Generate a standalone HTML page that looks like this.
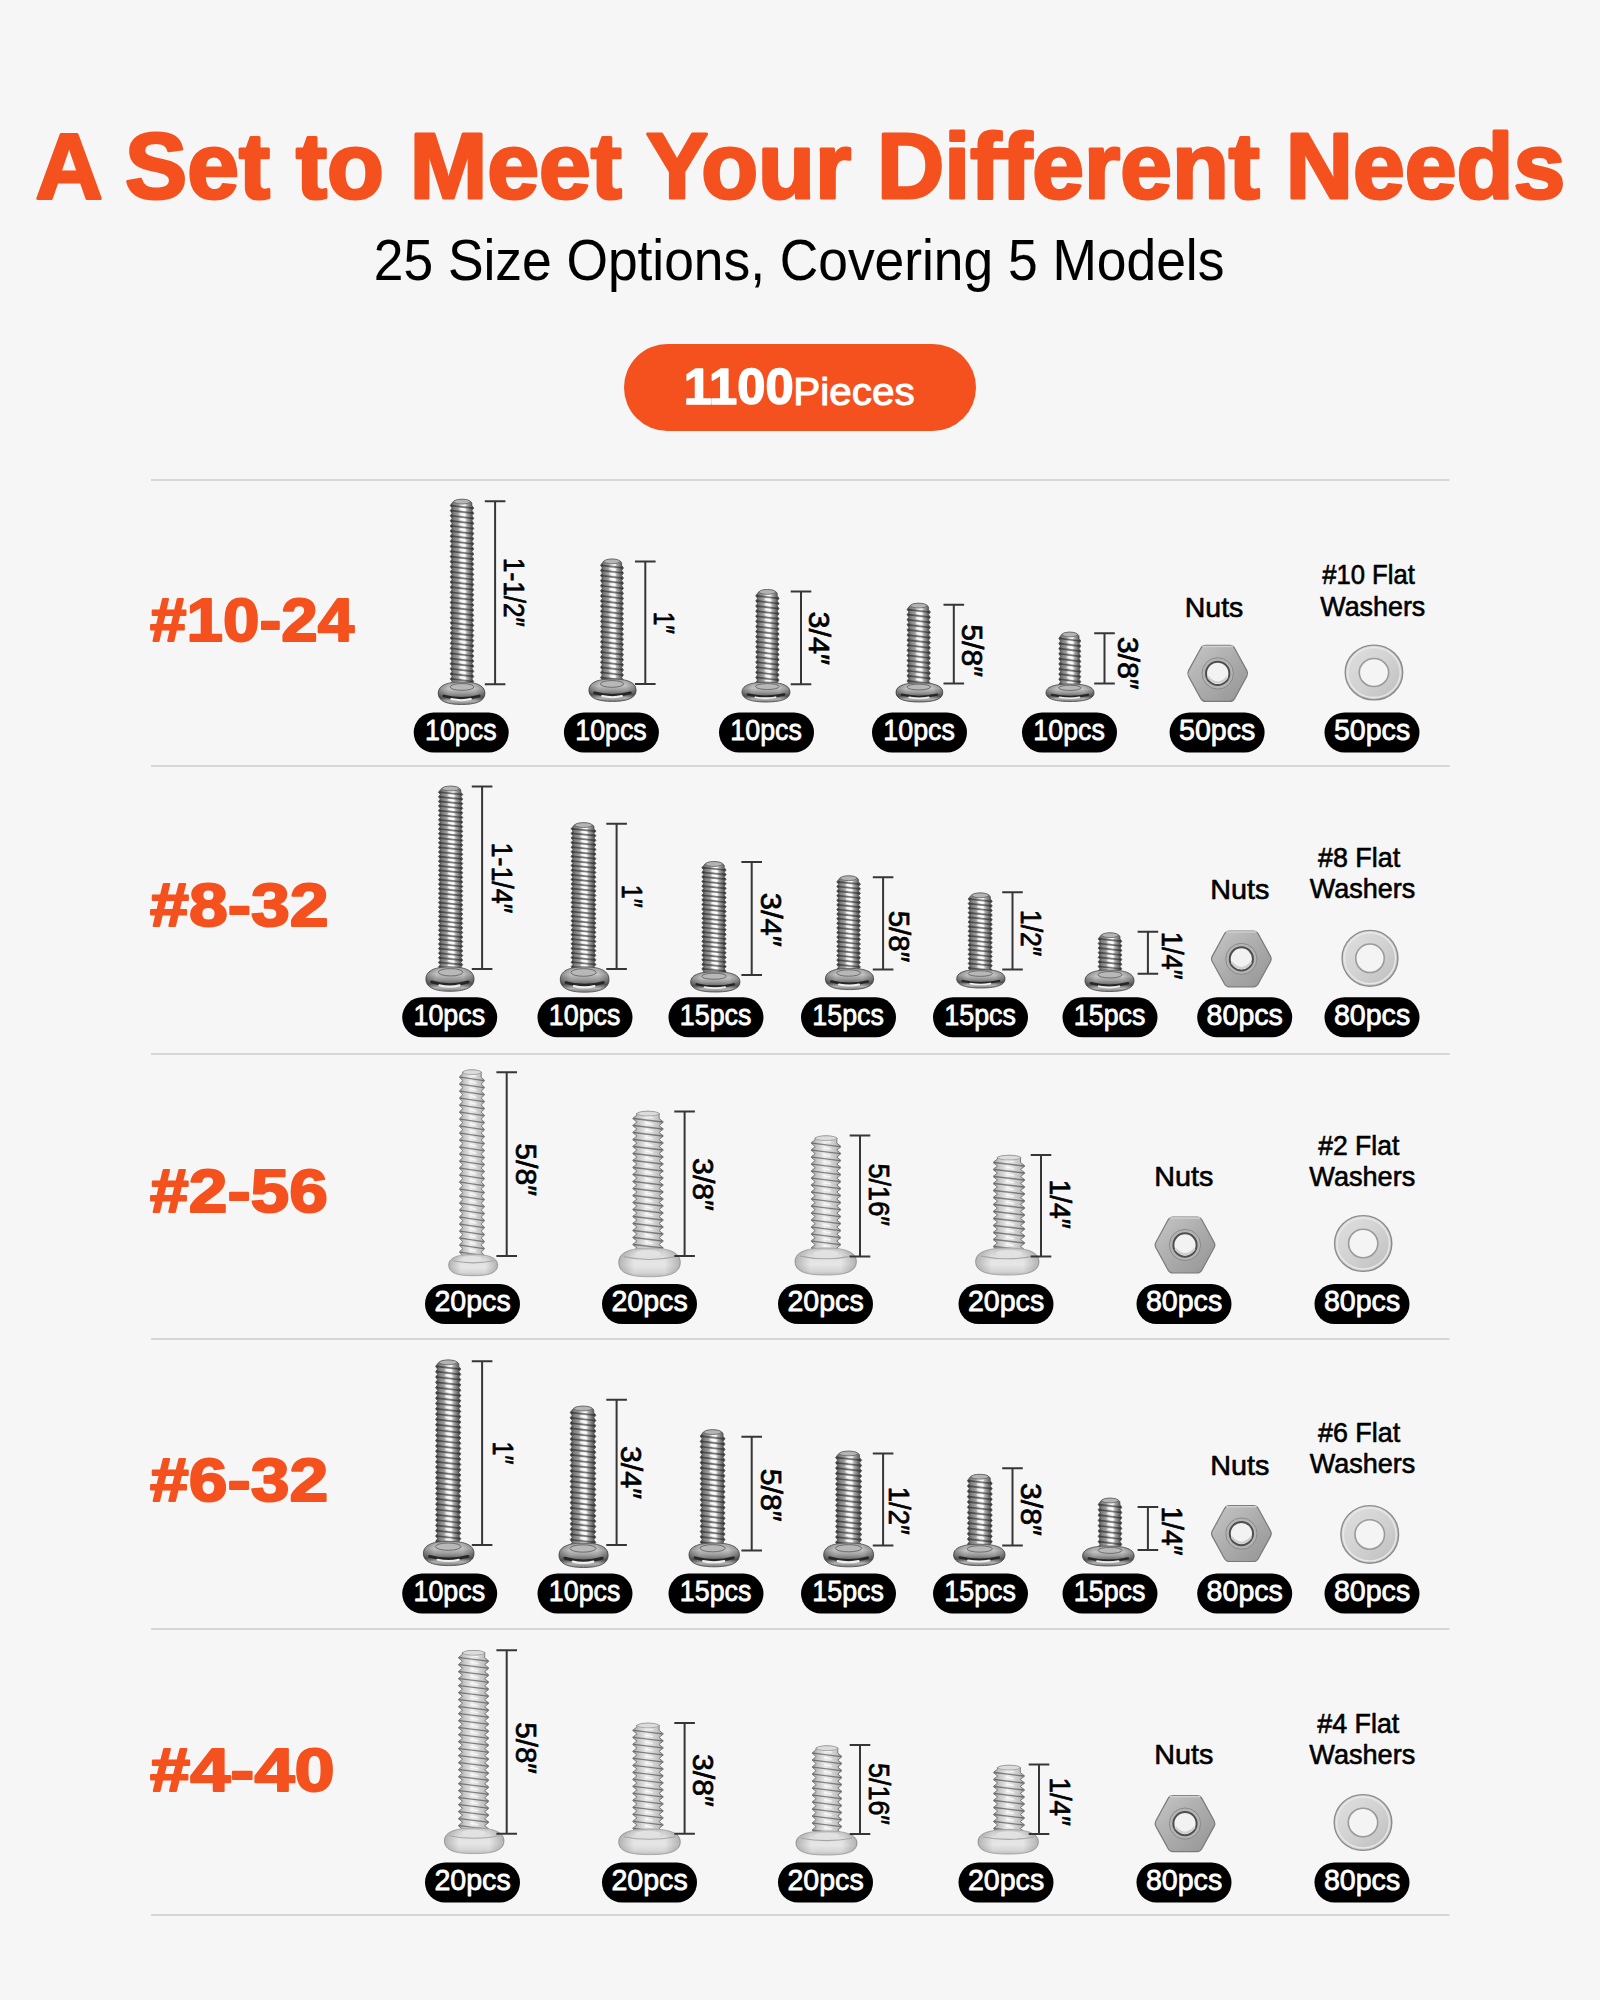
<!DOCTYPE html>
<html><head><meta charset="utf-8"><style>
html,body{margin:0;padding:0;background:#f6f6f6;}
svg{display:block;font-family:"Liberation Sans", sans-serif;}
</style></head><body>
<svg width="1600" height="2000" viewBox="0 0 1600 2000">
<defs>
<linearGradient id="shD" x1="0" y1="0" x2="1" y2="0">
 <stop offset="0" stop-color="#3c3c3c"/><stop offset="0.14" stop-color="#7a7a7a"/><stop offset="0.32" stop-color="#9c9c9c"/>
 <stop offset="0.5" stop-color="#e8e8e8"/><stop offset="0.6" stop-color="#f4f4f4"/><stop offset="0.72" stop-color="#aaaaaa"/><stop offset="0.88" stop-color="#6a6a6a"/><stop offset="1" stop-color="#444"/>
</linearGradient>
<linearGradient id="shL" x1="0" y1="0" x2="1" y2="0">
 <stop offset="0" stop-color="#9c9c9c"/><stop offset="0.2" stop-color="#c8c8c8"/><stop offset="0.45" stop-color="#ececec"/>
 <stop offset="0.6" stop-color="#dedede"/><stop offset="0.85" stop-color="#c0c0c0"/><stop offset="1" stop-color="#969696"/>
</linearGradient>
<linearGradient id="hdD" x1="0" y1="0" x2="0" y2="1">
 <stop offset="0" stop-color="#a0a0a0"/><stop offset="0.3" stop-color="#c2c2c2"/><stop offset="0.5" stop-color="#9c9c9c"/>
 <stop offset="0.7" stop-color="#656565"/><stop offset="0.85" stop-color="#b4b4b4"/><stop offset="1" stop-color="#7a7a7a"/>
</linearGradient>
<linearGradient id="hdDx" x1="0" y1="0" x2="1" y2="0">
 <stop offset="0" stop-color="#000" stop-opacity="0.3"/><stop offset="0.22" stop-color="#000" stop-opacity="0"/>
 <stop offset="0.78" stop-color="#000" stop-opacity="0"/><stop offset="1" stop-color="#000" stop-opacity="0.3"/>
</linearGradient>
<linearGradient id="hdTop" x1="0" y1="0" x2="1" y2="0">
 <stop offset="0" stop-color="#8e8e8e"/><stop offset="0.3" stop-color="#b2b2b2"/><stop offset="0.7" stop-color="#a8a8a8"/><stop offset="1" stop-color="#858585"/>
</linearGradient>
<linearGradient id="hdL" x1="0" y1="0" x2="0" y2="1">
 <stop offset="0" stop-color="#c4c4c4"/><stop offset="0.35" stop-color="#e2e2e2"/><stop offset="0.6" stop-color="#e6e6e6"/>
 <stop offset="0.85" stop-color="#d6d6d6"/><stop offset="1" stop-color="#bdbdbd"/>
</linearGradient>
<linearGradient id="hdLx" x1="0" y1="0" x2="1" y2="0">
 <stop offset="0" stop-color="#000" stop-opacity="0.22"/><stop offset="0.25" stop-color="#000" stop-opacity="0"/>
 <stop offset="0.75" stop-color="#000" stop-opacity="0"/><stop offset="1" stop-color="#000" stop-opacity="0.22"/>
</linearGradient>
<linearGradient id="nutG" x1="0" y1="0" x2="1" y2="1">
 <stop offset="0" stop-color="#c6c6c6"/><stop offset="0.5" stop-color="#acacac"/><stop offset="1" stop-color="#949494"/>
</linearGradient>
<linearGradient id="wasG" x1="0" y1="0" x2="1" y2="1">
 <stop offset="0" stop-color="#e0e0e0"/><stop offset="0.5" stop-color="#d2d2d2"/><stop offset="1" stop-color="#bdbdbd"/>
</linearGradient>
</defs>
<rect width="1600" height="2000" fill="#f6f6f6"/>
<rect x="624" y="344" width="352" height="87" rx="43.5" fill="#f4511e"/>
<rect x="151" y="479" width="1298.5" height="2" fill="#d6d6d6"/>
<rect x="151" y="765" width="1298.5" height="2" fill="#d6d6d6"/>
<rect x="151" y="1053" width="1298.5" height="2" fill="#d6d6d6"/>
<rect x="151" y="1338" width="1298.5" height="2" fill="#d6d6d6"/>
<rect x="151" y="1628" width="1298.5" height="2" fill="#d6d6d6"/>
<rect x="151" y="1914" width="1298.5" height="2" fill="#d6d6d6"/>
<path d="M453.27,501.5 Q462,497.2 470.73,501.5 L471.91,503 L471.91,505.55 L473.8,508.1 L471.91,510.65 L473.8,513.2 L471.91,515.75 L473.8,518.3 L471.91,520.85 L473.8,523.4 L471.91,525.95 L473.8,528.5 L471.91,531.05 L473.8,533.6 L471.91,536.15 L473.8,538.7 L471.91,541.25 L473.8,543.8 L471.91,546.35 L473.8,548.9 L471.91,551.45 L473.8,554 L471.91,556.55 L473.8,559.1 L471.91,561.65 L473.8,564.2 L471.91,566.75 L473.8,569.3 L471.91,571.85 L473.8,574.4 L471.91,576.95 L473.8,579.5 L471.91,582.05 L473.8,584.6 L471.91,587.15 L473.8,589.7 L471.91,592.25 L473.8,594.8 L471.91,597.35 L473.8,599.9 L471.91,602.45 L473.8,605 L471.91,607.55 L473.8,610.1 L471.91,612.65 L473.8,615.2 L471.91,617.75 L473.8,620.3 L471.91,622.85 L473.8,625.4 L471.91,627.95 L473.8,630.5 L471.91,633.05 L473.8,635.6 L471.91,638.15 L473.8,640.7 L471.91,643.25 L473.8,645.8 L471.91,648.35 L473.8,650.9 L471.91,653.45 L473.8,656 L471.91,658.55 L473.8,661.1 L471.91,663.65 L473.8,666.2 L471.91,668.75 L473.8,671.3 L471.91,673.85 L473.8,676.4 L471.91,678.95 L473.8,681.5 L471.91,684.05 L473.8,686.6 L471.91,685 L452.09,685 L450.2,684.05 L452.09,681.5 L450.2,678.95 L452.09,676.4 L450.2,673.85 L452.09,671.3 L450.2,668.75 L452.09,666.2 L450.2,663.65 L452.09,661.1 L450.2,658.55 L452.09,656 L450.2,653.45 L452.09,650.9 L450.2,648.35 L452.09,645.8 L450.2,643.25 L452.09,640.7 L450.2,638.15 L452.09,635.6 L450.2,633.05 L452.09,630.5 L450.2,627.95 L452.09,625.4 L450.2,622.85 L452.09,620.3 L450.2,617.75 L452.09,615.2 L450.2,612.65 L452.09,610.1 L450.2,607.55 L452.09,605 L450.2,602.45 L452.09,599.9 L450.2,597.35 L452.09,594.8 L450.2,592.25 L452.09,589.7 L450.2,587.15 L452.09,584.6 L450.2,582.05 L452.09,579.5 L450.2,576.95 L452.09,574.4 L450.2,571.85 L452.09,569.3 L450.2,566.75 L452.09,564.2 L450.2,561.65 L452.09,559.1 L450.2,556.55 L452.09,554 L450.2,551.45 L452.09,548.9 L450.2,546.35 L452.09,543.8 L450.2,541.25 L452.09,538.7 L450.2,536.15 L452.09,533.6 L450.2,531.05 L452.09,528.5 L450.2,525.95 L452.09,523.4 L450.2,520.85 L452.09,518.3 L450.2,515.75 L452.09,513.2 L450.2,510.65 L452.09,508.1 L450.2,505.55 L452.09,503 L452.09,503 Z" fill="url(#shD)" stroke="#4a4a4a" stroke-width="0.7" stroke-linejoin="round"/>
<path d="M451.2,505.55 L472.8,508.1 M451.2,510.65 L472.8,513.2 M451.2,515.75 L472.8,518.3 M451.2,520.85 L472.8,523.4 M451.2,525.95 L472.8,528.5 M451.2,531.05 L472.8,533.6 M451.2,536.15 L472.8,538.7 M451.2,541.25 L472.8,543.8 M451.2,546.35 L472.8,548.9 M451.2,551.45 L472.8,554 M451.2,556.55 L472.8,559.1 M451.2,561.65 L472.8,564.2 M451.2,566.75 L472.8,569.3 M451.2,571.85 L472.8,574.4 M451.2,576.95 L472.8,579.5 M451.2,582.05 L472.8,584.6 M451.2,587.15 L472.8,589.7 M451.2,592.25 L472.8,594.8 M451.2,597.35 L472.8,599.9 M451.2,602.45 L472.8,605 M451.2,607.55 L472.8,610.1 M451.2,612.65 L472.8,615.2 M451.2,617.75 L472.8,620.3 M451.2,622.85 L472.8,625.4 M451.2,627.95 L472.8,630.5 M451.2,633.05 L472.8,635.6 M451.2,638.15 L472.8,640.7 M451.2,643.25 L472.8,645.8 M451.2,648.35 L472.8,650.9 M451.2,653.45 L472.8,656 M451.2,658.55 L472.8,661.1 M451.2,663.65 L472.8,666.2 M451.2,668.75 L472.8,671.3 M451.2,673.85 L472.8,676.4 M451.2,678.95 L472.8,681.5 M451.2,684.05 L472.8,686.6" stroke="rgba(25,25,25,0.55)" stroke-width="1.7" fill="none"/>
<path d="M460.11,503.76 L465.3,504.79 M460.11,508.87 L465.3,509.89 M460.11,513.97 L465.3,514.99 M460.11,519.07 L465.3,520.09 M460.11,524.17 L465.3,525.19 M460.11,529.27 L465.3,530.29 M460.11,534.37 L465.3,535.39 M460.11,539.47 L465.3,540.49 M460.11,544.57 L465.3,545.59 M460.11,549.67 L465.3,550.69 M460.11,554.77 L465.3,555.79 M460.11,559.87 L465.3,560.89 M460.11,564.97 L465.3,565.99 M460.11,570.07 L465.3,571.09 M460.11,575.17 L465.3,576.19 M460.11,580.27 L465.3,581.29 M460.11,585.37 L465.3,586.39 M460.11,590.47 L465.3,591.49 M460.11,595.57 L465.3,596.59 M460.11,600.67 L465.3,601.69 M460.11,605.77 L465.3,606.79 M460.11,610.87 L465.3,611.89 M460.11,615.97 L465.3,616.99 M460.11,621.07 L465.3,622.09 M460.11,626.17 L465.3,627.19 M460.11,631.27 L465.3,632.29 M460.11,636.37 L465.3,637.39 M460.11,641.47 L465.3,642.49 M460.11,646.57 L465.3,647.59 M460.11,651.67 L465.3,652.69 M460.11,656.77 L465.3,657.79 M460.11,661.87 L465.3,662.89 M460.11,666.97 L465.3,667.99 M460.11,672.07 L465.3,673.09 M460.11,677.17 L465.3,678.19 M460.11,682.27 L465.3,683.29" stroke="rgba(255,255,255,0.8)" stroke-width="1.6" stroke-linecap="round" fill="none"/>
<ellipse cx="462" cy="501.6" rx="8.23" ry="2.4" fill="#b4b4b4" stroke="#606060" stroke-width="0.8"/>
<path d="M438.2,693.25 C438.2,684.25 449.41,682 461.55,682 C473.69,682 484.9,684.25 484.9,693.25 C484.9,701.8 474.63,704.5 461.55,704.5 C448.47,704.5 438.2,701.8 438.2,693.25 Z" fill="url(#hdD)" stroke="#555" stroke-width="0.9"/>
<path d="M438.2,693.25 C438.2,684.25 449.41,682 461.55,682 C473.69,682 484.9,684.25 484.9,693.25 C484.9,701.8 474.63,704.5 461.55,704.5 C448.47,704.5 438.2,701.8 438.2,693.25 Z" fill="url(#hdDx)"/>
<path d="M443.8,695.95 Q461.55,700.9 479.3,695.95" stroke="#262626" stroke-width="2.7" fill="none" stroke-linecap="round"/>
<path d="M451.28,699.1 Q461.55,701.35 470.89,699.1" stroke="#f0f0f0" stroke-width="2.02" fill="none" stroke-linecap="round"/>
<ellipse cx="462" cy="686.95" rx="11.89" ry="3.38" fill="#b8b8b8" stroke="#5a5a5a" stroke-width="0.8"/>
<path d="M484.8,501.2 H505.4 M495.1,501.2 V684.2 M484.8,684.2 H505.4" stroke="#363636" stroke-width="2" fill="none"/>
<path d="M603.49,561.3 Q612,557 620.51,561.3 L621.66,562.8 L621.66,565.35 L623.5,567.9 L621.66,570.45 L623.5,573 L621.66,575.55 L623.5,578.1 L621.66,580.65 L623.5,583.2 L621.66,585.75 L623.5,588.3 L621.66,590.85 L623.5,593.4 L621.66,595.95 L623.5,598.5 L621.66,601.05 L623.5,603.6 L621.66,606.15 L623.5,608.7 L621.66,611.25 L623.5,613.8 L621.66,616.35 L623.5,618.9 L621.66,621.45 L623.5,624 L621.66,626.55 L623.5,629.1 L621.66,631.65 L623.5,634.2 L621.66,636.75 L623.5,639.3 L621.66,641.85 L623.5,644.4 L621.66,646.95 L623.5,649.5 L621.66,652.05 L623.5,654.6 L621.66,657.15 L623.5,659.7 L621.66,662.25 L623.5,664.8 L621.66,667.35 L623.5,669.9 L621.66,672.45 L623.5,675 L621.66,677.55 L623.5,680.1 L621.66,682.65 L623.5,685.2 L621.66,682 L602.34,682 L600.5,682.65 L602.34,680.1 L600.5,677.55 L602.34,675 L600.5,672.45 L602.34,669.9 L600.5,667.35 L602.34,664.8 L600.5,662.25 L602.34,659.7 L600.5,657.15 L602.34,654.6 L600.5,652.05 L602.34,649.5 L600.5,646.95 L602.34,644.4 L600.5,641.85 L602.34,639.3 L600.5,636.75 L602.34,634.2 L600.5,631.65 L602.34,629.1 L600.5,626.55 L602.34,624 L600.5,621.45 L602.34,618.9 L600.5,616.35 L602.34,613.8 L600.5,611.25 L602.34,608.7 L600.5,606.15 L602.34,603.6 L600.5,601.05 L602.34,598.5 L600.5,595.95 L602.34,593.4 L600.5,590.85 L602.34,588.3 L600.5,585.75 L602.34,583.2 L600.5,580.65 L602.34,578.1 L600.5,575.55 L602.34,573 L600.5,570.45 L602.34,567.9 L600.5,565.35 L602.34,562.8 L602.34,562.8 Z" fill="url(#shD)" stroke="#4a4a4a" stroke-width="0.7" stroke-linejoin="round"/>
<path d="M601.5,565.35 L622.5,567.9 M601.5,570.45 L622.5,573 M601.5,575.55 L622.5,578.1 M601.5,580.65 L622.5,583.2 M601.5,585.75 L622.5,588.3 M601.5,590.85 L622.5,593.4 M601.5,595.95 L622.5,598.5 M601.5,601.05 L622.5,603.6 M601.5,606.15 L622.5,608.7 M601.5,611.25 L622.5,613.8 M601.5,616.35 L622.5,618.9 M601.5,621.45 L622.5,624 M601.5,626.55 L622.5,629.1 M601.5,631.65 L622.5,634.2 M601.5,636.75 L622.5,639.3 M601.5,641.85 L622.5,644.4 M601.5,646.95 L622.5,649.5 M601.5,652.05 L622.5,654.6 M601.5,657.15 L622.5,659.7 M601.5,662.25 L622.5,664.8 M601.5,667.35 L622.5,669.9 M601.5,672.45 L622.5,675 M601.5,677.55 L622.5,680.1" stroke="rgba(25,25,25,0.55)" stroke-width="1.7" fill="none"/>
<path d="M610.16,563.56 L615.22,564.58 M610.16,568.66 L615.22,569.68 M610.16,573.76 L615.22,574.78 M610.16,578.87 L615.22,579.88 M610.16,583.97 L615.22,584.99 M610.16,589.07 L615.22,590.09 M610.16,594.17 L615.22,595.19 M610.16,599.27 L615.22,600.29 M610.16,604.37 L615.22,605.39 M610.16,609.47 L615.22,610.49 M610.16,614.57 L615.22,615.59 M610.16,619.67 L615.22,620.69 M610.16,624.77 L615.22,625.79 M610.16,629.87 L615.22,630.89 M610.16,634.97 L615.22,635.99 M610.16,640.07 L615.22,641.09 M610.16,645.17 L615.22,646.19 M610.16,650.27 L615.22,651.29 M610.16,655.37 L615.22,656.39 M610.16,660.47 L615.22,661.49 M610.16,665.57 L615.22,666.59 M610.16,670.67 L615.22,671.69 M610.16,675.77 L615.22,676.79" stroke="rgba(255,255,255,0.8)" stroke-width="1.6" stroke-linecap="round" fill="none"/>
<ellipse cx="612" cy="561.4" rx="8.01" ry="2.4" fill="#b4b4b4" stroke="#606060" stroke-width="0.8"/>
<path d="M588.9,690.2 C588.9,681.24 600.23,679 612.5,679 C624.77,679 636.1,681.24 636.1,690.2 C636.1,698.71 625.72,701.4 612.5,701.4 C599.28,701.4 588.9,698.71 588.9,690.2 Z" fill="url(#hdD)" stroke="#555" stroke-width="0.9"/>
<path d="M588.9,690.2 C588.9,681.24 600.23,679 612.5,679 C624.77,679 636.1,681.24 636.1,690.2 C636.1,698.71 625.72,701.4 612.5,701.4 C599.28,701.4 588.9,698.71 588.9,690.2 Z" fill="url(#hdDx)"/>
<path d="M594.56,692.89 Q612.5,697.82 630.44,692.89" stroke="#262626" stroke-width="2.69" fill="none" stroke-linecap="round"/>
<path d="M602.12,696.02 Q612.5,698.26 621.94,696.02" stroke="#f0f0f0" stroke-width="2.02" fill="none" stroke-linecap="round"/>
<ellipse cx="612" cy="683.93" rx="11.59" ry="3.36" fill="#b8b8b8" stroke="#5a5a5a" stroke-width="0.8"/>
<path d="M635,561.4 H655.6 M645.3,561.4 V684 M635,684 H655.6" stroke="#363636" stroke-width="2" fill="none"/>
<path d="M758.74,591.8 Q767.4,587.5 776.06,591.8 L777.23,593.3 L777.23,595.85 L779.1,598.4 L777.23,600.95 L779.1,603.5 L777.23,606.05 L779.1,608.6 L777.23,611.15 L779.1,613.7 L777.23,616.25 L779.1,618.8 L777.23,621.35 L779.1,623.9 L777.23,626.45 L779.1,629 L777.23,631.55 L779.1,634.1 L777.23,636.65 L779.1,639.2 L777.23,641.75 L779.1,644.3 L777.23,646.85 L779.1,649.4 L777.23,651.95 L779.1,654.5 L777.23,657.05 L779.1,659.6 L777.23,662.15 L779.1,664.7 L777.23,667.25 L779.1,669.8 L777.23,672.35 L779.1,674.9 L777.23,677.45 L779.1,680 L777.23,682.55 L779.1,685.1 L777.23,687.65 L779.1,690.2 L777.23,685.2 L757.57,685.2 L755.7,687.65 L757.57,685.1 L755.7,682.55 L757.57,680 L755.7,677.45 L757.57,674.9 L755.7,672.35 L757.57,669.8 L755.7,667.25 L757.57,664.7 L755.7,662.15 L757.57,659.6 L755.7,657.05 L757.57,654.5 L755.7,651.95 L757.57,649.4 L755.7,646.85 L757.57,644.3 L755.7,641.75 L757.57,639.2 L755.7,636.65 L757.57,634.1 L755.7,631.55 L757.57,629 L755.7,626.45 L757.57,623.9 L755.7,621.35 L757.57,618.8 L755.7,616.25 L757.57,613.7 L755.7,611.15 L757.57,608.6 L755.7,606.05 L757.57,603.5 L755.7,600.95 L757.57,598.4 L755.7,595.85 L757.57,593.3 L757.57,593.3 Z" fill="url(#shD)" stroke="#4a4a4a" stroke-width="0.7" stroke-linejoin="round"/>
<path d="M756.7,595.85 L778.1,598.4 M756.7,600.95 L778.1,603.5 M756.7,606.05 L778.1,608.6 M756.7,611.15 L778.1,613.7 M756.7,616.25 L778.1,618.8 M756.7,621.35 L778.1,623.9 M756.7,626.45 L778.1,629 M756.7,631.55 L778.1,634.1 M756.7,636.65 L778.1,639.2 M756.7,641.75 L778.1,644.3 M756.7,646.85 L778.1,649.4 M756.7,651.95 L778.1,654.5 M756.7,657.05 L778.1,659.6 M756.7,662.15 L778.1,664.7 M756.7,667.25 L778.1,669.8 M756.7,672.35 L778.1,674.9 M756.7,677.45 L778.1,680 M756.7,682.55 L778.1,685.1" stroke="rgba(25,25,25,0.55)" stroke-width="1.7" fill="none"/>
<path d="M765.53,594.06 L770.68,595.08 M765.53,599.16 L770.68,600.18 M765.53,604.26 L770.68,605.28 M765.53,609.37 L770.68,610.38 M765.53,614.47 L770.68,615.49 M765.53,619.57 L770.68,620.59 M765.53,624.67 L770.68,625.69 M765.53,629.77 L770.68,630.79 M765.53,634.87 L770.68,635.89 M765.53,639.97 L770.68,640.99 M765.53,645.07 L770.68,646.09 M765.53,650.17 L770.68,651.19 M765.53,655.27 L770.68,656.29 M765.53,660.37 L770.68,661.39 M765.53,665.47 L770.68,666.49 M765.53,670.57 L770.68,671.59 M765.53,675.67 L770.68,676.69 M765.53,680.77 L770.68,681.79" stroke="rgba(255,255,255,0.8)" stroke-width="1.6" stroke-linecap="round" fill="none"/>
<ellipse cx="767.4" cy="591.9" rx="8.16" ry="2.4" fill="#b4b4b4" stroke="#606060" stroke-width="0.8"/>
<path d="M742,692.1 C742,684.18 753.52,682.2 766,682.2 C778.48,682.2 790,684.18 790,692.1 C790,699.62 779.44,702 766,702 C752.56,702 742,699.62 742,692.1 Z" fill="url(#hdD)" stroke="#555" stroke-width="0.9"/>
<path d="M742,692.1 C742,684.18 753.52,682.2 766,682.2 C778.48,682.2 790,684.18 790,692.1 C790,699.62 779.44,702 766,702 C752.56,702 742,699.62 742,692.1 Z" fill="url(#hdDx)"/>
<path d="M747.76,694.48 Q766,698.83 784.24,694.48" stroke="#262626" stroke-width="2.38" fill="none" stroke-linecap="round"/>
<path d="M755.44,697.25 Q766,699.23 775.6,697.25" stroke="#f0f0f0" stroke-width="1.78" fill="none" stroke-linecap="round"/>
<ellipse cx="767.4" cy="686.56" rx="11.79" ry="2.97" fill="#b8b8b8" stroke="#5a5a5a" stroke-width="0.8"/>
<path d="M790.7,591.5 H811.3 M801,591.5 V684.2 M790.7,684.2 H811.3" stroke="#363636" stroke-width="2" fill="none"/>
<path d="M910.04,605.5 Q918.7,601.2 927.36,605.5 L928.53,607 L928.53,609.55 L930.4,612.1 L928.53,614.65 L930.4,617.2 L928.53,619.75 L930.4,622.3 L928.53,624.85 L930.4,627.4 L928.53,629.95 L930.4,632.5 L928.53,635.05 L930.4,637.6 L928.53,640.15 L930.4,642.7 L928.53,645.25 L930.4,647.8 L928.53,650.35 L930.4,652.9 L928.53,655.45 L930.4,658 L928.53,660.55 L930.4,663.1 L928.53,665.65 L930.4,668.2 L928.53,670.75 L930.4,673.3 L928.53,675.85 L930.4,678.4 L928.53,680.95 L930.4,683.5 L928.53,686.05 L930.4,688.6 L928.53,685.8 L908.87,685.8 L907,686.05 L908.87,683.5 L907,680.95 L908.87,678.4 L907,675.85 L908.87,673.3 L907,670.75 L908.87,668.2 L907,665.65 L908.87,663.1 L907,660.55 L908.87,658 L907,655.45 L908.87,652.9 L907,650.35 L908.87,647.8 L907,645.25 L908.87,642.7 L907,640.15 L908.87,637.6 L907,635.05 L908.87,632.5 L907,629.95 L908.87,627.4 L907,624.85 L908.87,622.3 L907,619.75 L908.87,617.2 L907,614.65 L908.87,612.1 L907,609.55 L908.87,607 L908.87,607 Z" fill="url(#shD)" stroke="#4a4a4a" stroke-width="0.7" stroke-linejoin="round"/>
<path d="M908,609.55 L929.4,612.1 M908,614.65 L929.4,617.2 M908,619.75 L929.4,622.3 M908,624.85 L929.4,627.4 M908,629.95 L929.4,632.5 M908,635.05 L929.4,637.6 M908,640.15 L929.4,642.7 M908,645.25 L929.4,647.8 M908,650.35 L929.4,652.9 M908,655.45 L929.4,658 M908,660.55 L929.4,663.1 M908,665.65 L929.4,668.2 M908,670.75 L929.4,673.3 M908,675.85 L929.4,678.4 M908,680.95 L929.4,683.5 M908,686.05 L929.4,688.6" stroke="rgba(25,25,25,0.55)" stroke-width="1.7" fill="none"/>
<path d="M916.83,607.76 L921.98,608.78 M916.83,612.87 L921.98,613.88 M916.83,617.97 L921.98,618.99 M916.83,623.07 L921.98,624.09 M916.83,628.17 L921.98,629.19 M916.83,633.27 L921.98,634.29 M916.83,638.37 L921.98,639.39 M916.83,643.47 L921.98,644.49 M916.83,648.57 L921.98,649.59 M916.83,653.67 L921.98,654.69 M916.83,658.77 L921.98,659.79 M916.83,663.87 L921.98,664.89 M916.83,668.97 L921.98,669.99 M916.83,674.07 L921.98,675.09 M916.83,679.17 L921.98,680.19 M916.83,684.27 L921.98,685.29" stroke="rgba(255,255,255,0.8)" stroke-width="1.6" stroke-linecap="round" fill="none"/>
<ellipse cx="918.7" cy="605.6" rx="8.16" ry="2.4" fill="#b4b4b4" stroke="#606060" stroke-width="0.8"/>
<path d="M896,692.4 C896,684.72 907.23,682.8 919.4,682.8 C931.57,682.8 942.8,684.72 942.8,692.4 C942.8,699.7 932.5,702 919.4,702 C906.3,702 896,699.7 896,692.4 Z" fill="url(#hdD)" stroke="#555" stroke-width="0.9"/>
<path d="M896,692.4 C896,684.72 907.23,682.8 919.4,682.8 C931.57,682.8 942.8,684.72 942.8,692.4 C942.8,699.7 932.5,702 919.4,702 C906.3,702 896,699.7 896,692.4 Z" fill="url(#hdDx)"/>
<path d="M901.62,694.7 Q919.4,698.93 937.18,694.7" stroke="#262626" stroke-width="2.3" fill="none" stroke-linecap="round"/>
<path d="M909.1,697.39 Q919.4,699.31 928.76,697.39" stroke="#f0f0f0" stroke-width="1.73" fill="none" stroke-linecap="round"/>
<ellipse cx="918.7" cy="687.02" rx="11.79" ry="2.88" fill="#b8b8b8" stroke="#5a5a5a" stroke-width="0.8"/>
<path d="M943.5,604.7 H964.1 M953.8,604.7 V683.6 M943.5,683.6 H964.1" stroke="#363636" stroke-width="2" fill="none"/>
<path d="M1061.66,634.4 Q1069.8,630.1 1077.94,634.4 L1079.04,635.9 L1079.04,638.45 L1080.8,641 L1079.04,643.55 L1080.8,646.1 L1079.04,648.65 L1080.8,651.2 L1079.04,653.75 L1080.8,656.3 L1079.04,658.85 L1080.8,661.4 L1079.04,663.95 L1080.8,666.5 L1079.04,669.05 L1080.8,671.6 L1079.04,674.15 L1080.8,676.7 L1079.04,679.25 L1080.8,681.8 L1079.04,684.35 L1080.8,686.9 L1079.04,689.45 L1080.8,692 L1079.04,687 L1060.56,687 L1058.8,689.45 L1060.56,686.9 L1058.8,684.35 L1060.56,681.8 L1058.8,679.25 L1060.56,676.7 L1058.8,674.15 L1060.56,671.6 L1058.8,669.05 L1060.56,666.5 L1058.8,663.95 L1060.56,661.4 L1058.8,658.85 L1060.56,656.3 L1058.8,653.75 L1060.56,651.2 L1058.8,648.65 L1060.56,646.1 L1058.8,643.55 L1060.56,641 L1058.8,638.45 L1060.56,635.9 L1060.56,635.9 Z" fill="url(#shD)" stroke="#4a4a4a" stroke-width="0.7" stroke-linejoin="round"/>
<path d="M1059.8,638.45 L1079.8,641 M1059.8,643.55 L1079.8,646.1 M1059.8,648.65 L1079.8,651.2 M1059.8,653.75 L1079.8,656.3 M1059.8,658.85 L1079.8,661.4 M1059.8,663.95 L1079.8,666.5 M1059.8,669.05 L1079.8,671.6 M1059.8,674.15 L1079.8,676.7 M1059.8,679.25 L1079.8,681.8 M1059.8,684.35 L1079.8,686.9" stroke="rgba(25,25,25,0.55)" stroke-width="1.7" fill="none"/>
<path d="M1068.04,636.66 L1072.88,637.68 M1068.04,641.76 L1072.88,642.78 M1068.04,646.87 L1072.88,647.88 M1068.04,651.97 L1072.88,652.99 M1068.04,657.07 L1072.88,658.09 M1068.04,662.17 L1072.88,663.19 M1068.04,667.27 L1072.88,668.29 M1068.04,672.37 L1072.88,673.39 M1068.04,677.47 L1072.88,678.49 M1068.04,682.57 L1072.88,683.59" stroke="rgba(255,255,255,0.8)" stroke-width="1.6" stroke-linecap="round" fill="none"/>
<ellipse cx="1069.8" cy="634.5" rx="7.64" ry="2.4" fill="#b4b4b4" stroke="#606060" stroke-width="0.8"/>
<path d="M1046,692.75 C1046,685.75 1057.52,684 1070,684 C1082.48,684 1094,685.75 1094,692.75 C1094,699.4 1083.44,701.5 1070,701.5 C1056.56,701.5 1046,699.4 1046,692.75 Z" fill="url(#hdD)" stroke="#555" stroke-width="0.9"/>
<path d="M1046,692.75 C1046,685.75 1057.52,684 1070,684 C1082.48,684 1094,685.75 1094,692.75 C1094,699.4 1083.44,701.5 1070,701.5 C1056.56,701.5 1046,699.4 1046,692.75 Z" fill="url(#hdDx)"/>
<path d="M1051.76,694.85 Q1070,698.7 1088.24,694.85" stroke="#262626" stroke-width="2.1" fill="none" stroke-linecap="round"/>
<path d="M1059.44,697.3 Q1070,699.05 1079.6,697.3" stroke="#f0f0f0" stroke-width="1.57" fill="none" stroke-linecap="round"/>
<ellipse cx="1069.8" cy="687.85" rx="11.09" ry="2.62" fill="#b8b8b8" stroke="#5a5a5a" stroke-width="0.8"/>
<path d="M1094.2,633.3 H1114.8 M1104.5,633.3 V683.6 M1094.2,683.6 H1114.8" stroke="#363636" stroke-width="2" fill="none"/>
<path d="M1188.54,676.21 Q1187,673.4 1188.54,670.59 L1200.81,648.21 Q1202.35,645.4 1205.55,645.4 L1229.85,645.4 Q1233.05,645.4 1234.59,648.21 L1246.86,670.59 Q1248.4,673.4 1246.86,676.21 L1234.59,698.59 Q1233.05,701.4 1229.85,701.4 L1205.55,701.4 Q1202.35,701.4 1200.81,698.59 Z" fill="url(#nutG)" stroke="#7a7a7a" stroke-width="1.2"/>
<path d="M1202.35,646.4 L1233.05,646.4" stroke="#d0d0d0" stroke-width="1.5"/>
<circle cx="1217.7" cy="673.4" r="15.66" fill="#b4b4b4" stroke="#858585" stroke-width="0.9"/>
<circle cx="1217.7" cy="673.4" r="11.67" fill="#f2f2f2" stroke="#4e4e4e" stroke-width="2"/>
<path d="M1207.88,677.08 Q1217.7,688.14 1227.52,677.08" stroke="#cfcfcf" stroke-width="2.2" fill="none"/>
<ellipse cx="1373.95" cy="672.5" rx="28.75" ry="27.4" fill="url(#wasG)" stroke="#8c8c8c" stroke-width="1.4"/>
<ellipse cx="1373.95" cy="672.5" rx="26.35" ry="25" fill="none" stroke="#e8e8e8" stroke-width="1.4"/>
<ellipse cx="1373.95" cy="672.5" rx="14.68" ry="14" fill="#f4f4f4" stroke="#9a9a9a" stroke-width="1.6"/>
<rect x="413.7" y="712.5" width="95" height="40" rx="20" fill="#000"/>
<rect x="563.9" y="712.5" width="95" height="40" rx="20" fill="#000"/>
<rect x="719" y="712.5" width="95" height="40" rx="20" fill="#000"/>
<rect x="872" y="712.5" width="95" height="40" rx="20" fill="#000"/>
<rect x="1022" y="712.5" width="95" height="40" rx="20" fill="#000"/>
<rect x="1169.6" y="712.5" width="95" height="40" rx="20" fill="#000"/>
<rect x="1324.5" y="712.5" width="95" height="40" rx="20" fill="#000"/>
<path d="M441.57,788.4 Q450.6,784.1 459.63,788.4 L460.85,789.9 L460.85,792.2 L462.8,794.5 L460.85,796.8 L462.8,799.1 L460.85,801.4 L462.8,803.7 L460.85,806 L462.8,808.3 L460.85,810.6 L462.8,812.9 L460.85,815.2 L462.8,817.5 L460.85,819.8 L462.8,822.1 L460.85,824.4 L462.8,826.7 L460.85,829 L462.8,831.3 L460.85,833.6 L462.8,835.9 L460.85,838.2 L462.8,840.5 L460.85,842.8 L462.8,845.1 L460.85,847.4 L462.8,849.7 L460.85,852 L462.8,854.3 L460.85,856.6 L462.8,858.9 L460.85,861.2 L462.8,863.5 L460.85,865.8 L462.8,868.1 L460.85,870.4 L462.8,872.7 L460.85,875 L462.8,877.3 L460.85,879.6 L462.8,881.9 L460.85,884.2 L462.8,886.5 L460.85,888.8 L462.8,891.1 L460.85,893.4 L462.8,895.7 L460.85,898 L462.8,900.3 L460.85,902.6 L462.8,904.9 L460.85,907.2 L462.8,909.5 L460.85,911.8 L462.8,914.1 L460.85,916.4 L462.8,918.7 L460.85,921 L462.8,923.3 L460.85,925.6 L462.8,927.9 L460.85,930.2 L462.8,932.5 L460.85,934.8 L462.8,937.1 L460.85,939.4 L462.8,941.7 L460.85,944 L462.8,946.3 L460.85,948.6 L462.8,950.9 L460.85,953.2 L462.8,955.5 L460.85,957.8 L462.8,960.1 L460.85,962.4 L462.8,964.7 L460.85,967 L462.8,969.3 L460.85,971.6 L462.8,973.9 L460.85,969.9 L440.35,969.9 L438.4,971.6 L440.35,969.3 L438.4,967 L440.35,964.7 L438.4,962.4 L440.35,960.1 L438.4,957.8 L440.35,955.5 L438.4,953.2 L440.35,950.9 L438.4,948.6 L440.35,946.3 L438.4,944 L440.35,941.7 L438.4,939.4 L440.35,937.1 L438.4,934.8 L440.35,932.5 L438.4,930.2 L440.35,927.9 L438.4,925.6 L440.35,923.3 L438.4,921 L440.35,918.7 L438.4,916.4 L440.35,914.1 L438.4,911.8 L440.35,909.5 L438.4,907.2 L440.35,904.9 L438.4,902.6 L440.35,900.3 L438.4,898 L440.35,895.7 L438.4,893.4 L440.35,891.1 L438.4,888.8 L440.35,886.5 L438.4,884.2 L440.35,881.9 L438.4,879.6 L440.35,877.3 L438.4,875 L440.35,872.7 L438.4,870.4 L440.35,868.1 L438.4,865.8 L440.35,863.5 L438.4,861.2 L440.35,858.9 L438.4,856.6 L440.35,854.3 L438.4,852 L440.35,849.7 L438.4,847.4 L440.35,845.1 L438.4,842.8 L440.35,840.5 L438.4,838.2 L440.35,835.9 L438.4,833.6 L440.35,831.3 L438.4,829 L440.35,826.7 L438.4,824.4 L440.35,822.1 L438.4,819.8 L440.35,817.5 L438.4,815.2 L440.35,812.9 L438.4,810.6 L440.35,808.3 L438.4,806 L440.35,803.7 L438.4,801.4 L440.35,799.1 L438.4,796.8 L440.35,794.5 L438.4,792.2 L440.35,789.9 L440.35,789.9 Z" fill="url(#shD)" stroke="#4a4a4a" stroke-width="0.7" stroke-linejoin="round"/>
<path d="M439.4,792.2 L461.8,794.5 M439.4,796.8 L461.8,799.1 M439.4,801.4 L461.8,803.7 M439.4,806 L461.8,808.3 M439.4,810.6 L461.8,812.9 M439.4,815.2 L461.8,817.5 M439.4,819.8 L461.8,822.1 M439.4,824.4 L461.8,826.7 M439.4,829 L461.8,831.3 M439.4,833.6 L461.8,835.9 M439.4,838.2 L461.8,840.5 M439.4,842.8 L461.8,845.1 M439.4,847.4 L461.8,849.7 M439.4,852 L461.8,854.3 M439.4,856.6 L461.8,858.9 M439.4,861.2 L461.8,863.5 M439.4,865.8 L461.8,868.1 M439.4,870.4 L461.8,872.7 M439.4,875 L461.8,877.3 M439.4,879.6 L461.8,881.9 M439.4,884.2 L461.8,886.5 M439.4,888.8 L461.8,891.1 M439.4,893.4 L461.8,895.7 M439.4,898 L461.8,900.3 M439.4,902.6 L461.8,904.9 M439.4,907.2 L461.8,909.5 M439.4,911.8 L461.8,914.1 M439.4,916.4 L461.8,918.7 M439.4,921 L461.8,923.3 M439.4,925.6 L461.8,927.9 M439.4,930.2 L461.8,932.5 M439.4,934.8 L461.8,937.1 M439.4,939.4 L461.8,941.7 M439.4,944 L461.8,946.3 M439.4,948.6 L461.8,950.9 M439.4,953.2 L461.8,955.5 M439.4,957.8 L461.8,960.1 M439.4,962.4 L461.8,964.7 M439.4,967 L461.8,969.3" stroke="rgba(25,25,25,0.55)" stroke-width="1.7" fill="none"/>
<path d="M448.65,790.59 L454.02,791.51 M448.65,795.19 L454.02,796.11 M448.65,799.79 L454.02,800.71 M448.65,804.39 L454.02,805.31 M448.65,808.99 L454.02,809.91 M448.65,813.59 L454.02,814.51 M448.65,818.19 L454.02,819.11 M448.65,822.79 L454.02,823.71 M448.65,827.39 L454.02,828.31 M448.65,831.99 L454.02,832.91 M448.65,836.59 L454.02,837.51 M448.65,841.19 L454.02,842.11 M448.65,845.79 L454.02,846.71 M448.65,850.39 L454.02,851.31 M448.65,854.99 L454.02,855.91 M448.65,859.59 L454.02,860.51 M448.65,864.19 L454.02,865.11 M448.65,868.79 L454.02,869.71 M448.65,873.39 L454.02,874.31 M448.65,877.99 L454.02,878.91 M448.65,882.59 L454.02,883.51 M448.65,887.19 L454.02,888.11 M448.65,891.79 L454.02,892.71 M448.65,896.39 L454.02,897.31 M448.65,900.99 L454.02,901.91 M448.65,905.59 L454.02,906.51 M448.65,910.19 L454.02,911.11 M448.65,914.79 L454.02,915.71 M448.65,919.39 L454.02,920.31 M448.65,923.99 L454.02,924.91 M448.65,928.59 L454.02,929.51 M448.65,933.19 L454.02,934.11 M448.65,937.79 L454.02,938.71 M448.65,942.39 L454.02,943.31 M448.65,946.99 L454.02,947.91 M448.65,951.59 L454.02,952.51 M448.65,956.19 L454.02,957.11 M448.65,960.79 L454.02,961.71 M448.65,965.39 L454.02,966.31" stroke="rgba(255,255,255,0.8)" stroke-width="1.6" stroke-linecap="round" fill="none"/>
<ellipse cx="450.6" cy="788.5" rx="8.53" ry="2.4" fill="#b4b4b4" stroke="#606060" stroke-width="0.8"/>
<path d="M425.9,979.1 C425.9,969.34 437.44,966.9 449.95,966.9 C462.46,966.9 474,969.34 474,979.1 C474,988.37 463.42,991.3 449.95,991.3 C436.48,991.3 425.9,988.37 425.9,979.1 Z" fill="url(#hdD)" stroke="#555" stroke-width="0.9"/>
<path d="M425.9,979.1 C425.9,969.34 437.44,966.9 449.95,966.9 C462.46,966.9 474,969.34 474,979.1 C474,988.37 463.42,991.3 449.95,991.3 C436.48,991.3 425.9,988.37 425.9,979.1 Z" fill="url(#hdDx)"/>
<path d="M431.67,982.03 Q449.95,987.4 468.23,982.03" stroke="#262626" stroke-width="2.93" fill="none" stroke-linecap="round"/>
<path d="M439.37,985.44 Q449.95,987.88 459.57,985.44" stroke="#f0f0f0" stroke-width="2.2" fill="none" stroke-linecap="round"/>
<ellipse cx="450.6" cy="972.27" rx="12.3" ry="3.66" fill="#b8b8b8" stroke="#5a5a5a" stroke-width="0.8"/>
<path d="M471.8,786.5 H492.4 M482.1,786.5 V969.1 M471.8,969.1 H492.4" stroke="#363636" stroke-width="2" fill="none"/>
<path d="M574.25,825 Q583.5,820.7 592.75,825 L594,826.5 L594,828.8 L596,831.1 L594,833.4 L596,835.7 L594,838 L596,840.3 L594,842.6 L596,844.9 L594,847.2 L596,849.5 L594,851.8 L596,854.1 L594,856.4 L596,858.7 L594,861 L596,863.3 L594,865.6 L596,867.9 L594,870.2 L596,872.5 L594,874.8 L596,877.1 L594,879.4 L596,881.7 L594,884 L596,886.3 L594,888.6 L596,890.9 L594,893.2 L596,895.5 L594,897.8 L596,900.1 L594,902.4 L596,904.7 L594,907 L596,909.3 L594,911.6 L596,913.9 L594,916.2 L596,918.5 L594,920.8 L596,923.1 L594,925.4 L596,927.7 L594,930 L596,932.3 L594,934.6 L596,936.9 L594,939.2 L596,941.5 L594,943.8 L596,946.1 L594,948.4 L596,950.7 L594,953 L596,955.3 L594,957.6 L596,959.9 L594,962.2 L596,964.5 L594,966.8 L596,969.1 L594,971.4 L596,973.7 L594,969.9 L573,969.9 L571,971.4 L573,969.1 L571,966.8 L573,964.5 L571,962.2 L573,959.9 L571,957.6 L573,955.3 L571,953 L573,950.7 L571,948.4 L573,946.1 L571,943.8 L573,941.5 L571,939.2 L573,936.9 L571,934.6 L573,932.3 L571,930 L573,927.7 L571,925.4 L573,923.1 L571,920.8 L573,918.5 L571,916.2 L573,913.9 L571,911.6 L573,909.3 L571,907 L573,904.7 L571,902.4 L573,900.1 L571,897.8 L573,895.5 L571,893.2 L573,890.9 L571,888.6 L573,886.3 L571,884 L573,881.7 L571,879.4 L573,877.1 L571,874.8 L573,872.5 L571,870.2 L573,867.9 L571,865.6 L573,863.3 L571,861 L573,858.7 L571,856.4 L573,854.1 L571,851.8 L573,849.5 L571,847.2 L573,844.9 L571,842.6 L573,840.3 L571,838 L573,835.7 L571,833.4 L573,831.1 L571,828.8 L573,826.5 L573,826.5 Z" fill="url(#shD)" stroke="#4a4a4a" stroke-width="0.7" stroke-linejoin="round"/>
<path d="M572,828.8 L595,831.1 M572,833.4 L595,835.7 M572,838 L595,840.3 M572,842.6 L595,844.9 M572,847.2 L595,849.5 M572,851.8 L595,854.1 M572,856.4 L595,858.7 M572,861 L595,863.3 M572,865.6 L595,867.9 M572,870.2 L595,872.5 M572,874.8 L595,877.1 M572,879.4 L595,881.7 M572,884 L595,886.3 M572,888.6 L595,890.9 M572,893.2 L595,895.5 M572,897.8 L595,900.1 M572,902.4 L595,904.7 M572,907 L595,909.3 M572,911.6 L595,913.9 M572,916.2 L595,918.5 M572,920.8 L595,923.1 M572,925.4 L595,927.7 M572,930 L595,932.3 M572,934.6 L595,936.9 M572,939.2 L595,941.5 M572,943.8 L595,946.1 M572,948.4 L595,950.7 M572,953 L595,955.3 M572,957.6 L595,959.9 M572,962.2 L595,964.5 M572,966.8 L595,969.1" stroke="rgba(25,25,25,0.55)" stroke-width="1.7" fill="none"/>
<path d="M581.5,827.19 L587,828.11 M581.5,831.79 L587,832.71 M581.5,836.39 L587,837.31 M581.5,840.99 L587,841.91 M581.5,845.59 L587,846.51 M581.5,850.19 L587,851.11 M581.5,854.79 L587,855.71 M581.5,859.39 L587,860.31 M581.5,863.99 L587,864.91 M581.5,868.59 L587,869.51 M581.5,873.19 L587,874.11 M581.5,877.79 L587,878.71 M581.5,882.39 L587,883.31 M581.5,886.99 L587,887.91 M581.5,891.59 L587,892.51 M581.5,896.19 L587,897.11 M581.5,900.79 L587,901.71 M581.5,905.39 L587,906.31 M581.5,909.99 L587,910.91 M581.5,914.59 L587,915.51 M581.5,919.19 L587,920.11 M581.5,923.79 L587,924.71 M581.5,928.39 L587,929.31 M581.5,932.99 L587,933.91 M581.5,937.59 L587,938.51 M581.5,942.19 L587,943.11 M581.5,946.79 L587,947.71 M581.5,951.39 L587,952.31 M581.5,955.99 L587,956.91 M581.5,960.59 L587,961.51 M581.5,965.19 L587,966.11" stroke="rgba(255,255,255,0.8)" stroke-width="1.6" stroke-linecap="round" fill="none"/>
<ellipse cx="583.5" cy="825.1" rx="8.75" ry="2.4" fill="#b4b4b4" stroke="#606060" stroke-width="0.8"/>
<path d="M560.3,979.55 C560.3,969.43 571.99,966.9 584.65,966.9 C597.31,966.9 609,969.43 609,979.55 C609,989.16 598.29,992.2 584.65,992.2 C571.01,992.2 560.3,989.16 560.3,979.55 Z" fill="url(#hdD)" stroke="#555" stroke-width="0.9"/>
<path d="M560.3,979.55 C560.3,969.43 571.99,966.9 584.65,966.9 C597.31,966.9 609,969.43 609,979.55 C609,989.16 598.29,992.2 584.65,992.2 C571.01,992.2 560.3,989.16 560.3,979.55 Z" fill="url(#hdDx)"/>
<path d="M566.14,982.59 Q584.65,988.15 603.16,982.59" stroke="#262626" stroke-width="3.04" fill="none" stroke-linecap="round"/>
<path d="M573.94,986.13 Q584.65,988.66 594.39,986.13" stroke="#f0f0f0" stroke-width="2.28" fill="none" stroke-linecap="round"/>
<ellipse cx="583.5" cy="972.47" rx="12.6" ry="3.8" fill="#b8b8b8" stroke="#5a5a5a" stroke-width="0.8"/>
<path d="M606.3,823.8 H626.9 M616.6,823.8 V969.1 M606.3,969.1 H626.9" stroke="#363636" stroke-width="2" fill="none"/>
<path d="M704.97,863.9 Q714,859.6 723.03,863.9 L724.25,865.4 L724.25,867.7 L726.2,870 L724.25,872.3 L726.2,874.6 L724.25,876.9 L726.2,879.2 L724.25,881.5 L726.2,883.8 L724.25,886.1 L726.2,888.4 L724.25,890.7 L726.2,893 L724.25,895.3 L726.2,897.6 L724.25,899.9 L726.2,902.2 L724.25,904.5 L726.2,906.8 L724.25,909.1 L726.2,911.4 L724.25,913.7 L726.2,916 L724.25,918.3 L726.2,920.6 L724.25,922.9 L726.2,925.2 L724.25,927.5 L726.2,929.8 L724.25,932.1 L726.2,934.4 L724.25,936.7 L726.2,939 L724.25,941.3 L726.2,943.6 L724.25,945.9 L726.2,948.2 L724.25,950.5 L726.2,952.8 L724.25,955.1 L726.2,957.4 L724.25,959.7 L726.2,962 L724.25,964.3 L726.2,966.6 L724.25,968.9 L726.2,971.2 L724.25,973.5 L726.2,975.8 L724.25,974.8 L703.75,974.8 L701.8,973.5 L703.75,971.2 L701.8,968.9 L703.75,966.6 L701.8,964.3 L703.75,962 L701.8,959.7 L703.75,957.4 L701.8,955.1 L703.75,952.8 L701.8,950.5 L703.75,948.2 L701.8,945.9 L703.75,943.6 L701.8,941.3 L703.75,939 L701.8,936.7 L703.75,934.4 L701.8,932.1 L703.75,929.8 L701.8,927.5 L703.75,925.2 L701.8,922.9 L703.75,920.6 L701.8,918.3 L703.75,916 L701.8,913.7 L703.75,911.4 L701.8,909.1 L703.75,906.8 L701.8,904.5 L703.75,902.2 L701.8,899.9 L703.75,897.6 L701.8,895.3 L703.75,893 L701.8,890.7 L703.75,888.4 L701.8,886.1 L703.75,883.8 L701.8,881.5 L703.75,879.2 L701.8,876.9 L703.75,874.6 L701.8,872.3 L703.75,870 L701.8,867.7 L703.75,865.4 L703.75,865.4 Z" fill="url(#shD)" stroke="#4a4a4a" stroke-width="0.7" stroke-linejoin="round"/>
<path d="M702.8,867.7 L725.2,870 M702.8,872.3 L725.2,874.6 M702.8,876.9 L725.2,879.2 M702.8,881.5 L725.2,883.8 M702.8,886.1 L725.2,888.4 M702.8,890.7 L725.2,893 M702.8,895.3 L725.2,897.6 M702.8,899.9 L725.2,902.2 M702.8,904.5 L725.2,906.8 M702.8,909.1 L725.2,911.4 M702.8,913.7 L725.2,916 M702.8,918.3 L725.2,920.6 M702.8,922.9 L725.2,925.2 M702.8,927.5 L725.2,929.8 M702.8,932.1 L725.2,934.4 M702.8,936.7 L725.2,939 M702.8,941.3 L725.2,943.6 M702.8,945.9 L725.2,948.2 M702.8,950.5 L725.2,952.8 M702.8,955.1 L725.2,957.4 M702.8,959.7 L725.2,962 M702.8,964.3 L725.2,966.6 M702.8,968.9 L725.2,971.2 M702.8,973.5 L725.2,975.8" stroke="rgba(25,25,25,0.55)" stroke-width="1.7" fill="none"/>
<path d="M712.05,866.09 L717.42,867.01 M712.05,870.69 L717.42,871.61 M712.05,875.29 L717.42,876.21 M712.05,879.89 L717.42,880.81 M712.05,884.49 L717.42,885.41 M712.05,889.09 L717.42,890.01 M712.05,893.69 L717.42,894.61 M712.05,898.29 L717.42,899.21 M712.05,902.89 L717.42,903.81 M712.05,907.49 L717.42,908.41 M712.05,912.09 L717.42,913.01 M712.05,916.69 L717.42,917.61 M712.05,921.29 L717.42,922.21 M712.05,925.89 L717.42,926.81 M712.05,930.49 L717.42,931.41 M712.05,935.09 L717.42,936.01 M712.05,939.69 L717.42,940.61 M712.05,944.29 L717.42,945.21 M712.05,948.89 L717.42,949.81 M712.05,953.49 L717.42,954.41 M712.05,958.09 L717.42,959.01 M712.05,962.69 L717.42,963.61 M712.05,967.29 L717.42,968.21 M712.05,971.89 L717.42,972.81" stroke="rgba(255,255,255,0.8)" stroke-width="1.6" stroke-linecap="round" fill="none"/>
<ellipse cx="714" cy="864" rx="8.53" ry="2.4" fill="#b4b4b4" stroke="#606060" stroke-width="0.8"/>
<path d="M690.7,981.9 C690.7,973.82 702.51,971.8 715.3,971.8 C728.09,971.8 739.9,973.82 739.9,981.9 C739.9,989.58 729.08,992 715.3,992 C701.52,992 690.7,989.58 690.7,981.9 Z" fill="url(#hdD)" stroke="#555" stroke-width="0.9"/>
<path d="M690.7,981.9 C690.7,973.82 702.51,971.8 715.3,971.8 C728.09,971.8 739.9,973.82 739.9,981.9 C739.9,989.58 729.08,992 715.3,992 C701.52,992 690.7,989.58 690.7,981.9 Z" fill="url(#hdDx)"/>
<path d="M696.6,984.32 Q715.3,988.77 734,984.32" stroke="#262626" stroke-width="2.42" fill="none" stroke-linecap="round"/>
<path d="M704.48,987.15 Q715.3,989.17 725.14,987.15" stroke="#f0f0f0" stroke-width="1.82" fill="none" stroke-linecap="round"/>
<ellipse cx="714" cy="976.24" rx="12.3" ry="3.03" fill="#b8b8b8" stroke="#5a5a5a" stroke-width="0.8"/>
<path d="M741.4,862.1 H762 M751.7,862.1 V974.9 M741.4,974.9 H762" stroke="#363636" stroke-width="2" fill="none"/>
<path d="M839.83,878.1 Q848.6,873.8 857.37,878.1 L858.55,879.6 L858.55,881.9 L860.45,884.2 L858.55,886.5 L860.45,888.8 L858.55,891.1 L860.45,893.4 L858.55,895.7 L860.45,898 L858.55,900.3 L860.45,902.6 L858.55,904.9 L860.45,907.2 L858.55,909.5 L860.45,911.8 L858.55,914.1 L860.45,916.4 L858.55,918.7 L860.45,921 L858.55,923.3 L860.45,925.6 L858.55,927.9 L860.45,930.2 L858.55,932.5 L860.45,934.8 L858.55,937.1 L860.45,939.4 L858.55,941.7 L860.45,944 L858.55,946.3 L860.45,948.6 L858.55,950.9 L860.45,953.2 L858.55,955.5 L860.45,957.8 L858.55,960.1 L860.45,962.4 L858.55,964.7 L860.45,967 L858.55,969.3 L860.45,971.6 L858.55,971.3 L838.65,971.3 L836.75,969.3 L838.65,967 L836.75,964.7 L838.65,962.4 L836.75,960.1 L838.65,957.8 L836.75,955.5 L838.65,953.2 L836.75,950.9 L838.65,948.6 L836.75,946.3 L838.65,944 L836.75,941.7 L838.65,939.4 L836.75,937.1 L838.65,934.8 L836.75,932.5 L838.65,930.2 L836.75,927.9 L838.65,925.6 L836.75,923.3 L838.65,921 L836.75,918.7 L838.65,916.4 L836.75,914.1 L838.65,911.8 L836.75,909.5 L838.65,907.2 L836.75,904.9 L838.65,902.6 L836.75,900.3 L838.65,898 L836.75,895.7 L838.65,893.4 L836.75,891.1 L838.65,888.8 L836.75,886.5 L838.65,884.2 L836.75,881.9 L838.65,879.6 L838.65,879.6 Z" fill="url(#shD)" stroke="#4a4a4a" stroke-width="0.7" stroke-linejoin="round"/>
<path d="M837.75,881.9 L859.45,884.2 M837.75,886.5 L859.45,888.8 M837.75,891.1 L859.45,893.4 M837.75,895.7 L859.45,898 M837.75,900.3 L859.45,902.6 M837.75,904.9 L859.45,907.2 M837.75,909.5 L859.45,911.8 M837.75,914.1 L859.45,916.4 M837.75,918.7 L859.45,921 M837.75,923.3 L859.45,925.6 M837.75,927.9 L859.45,930.2 M837.75,932.5 L859.45,934.8 M837.75,937.1 L859.45,939.4 M837.75,941.7 L859.45,944 M837.75,946.3 L859.45,948.6 M837.75,950.9 L859.45,953.2 M837.75,955.5 L859.45,957.8 M837.75,960.1 L859.45,962.4 M837.75,964.7 L859.45,967 M837.75,969.3 L859.45,971.6" stroke="rgba(25,25,25,0.55)" stroke-width="1.7" fill="none"/>
<path d="M846.7,880.29 L851.92,881.21 M846.7,884.89 L851.92,885.81 M846.7,889.49 L851.92,890.41 M846.7,894.09 L851.92,895.01 M846.7,898.69 L851.92,899.61 M846.7,903.29 L851.92,904.21 M846.7,907.89 L851.92,908.81 M846.7,912.49 L851.92,913.41 M846.7,917.09 L851.92,918.01 M846.7,921.69 L851.92,922.61 M846.7,926.29 L851.92,927.21 M846.7,930.89 L851.92,931.81 M846.7,935.49 L851.92,936.41 M846.7,940.09 L851.92,941.01 M846.7,944.69 L851.92,945.61 M846.7,949.29 L851.92,950.21 M846.7,953.89 L851.92,954.81 M846.7,958.49 L851.92,959.41 M846.7,963.09 L851.92,964.01 M846.7,967.69 L851.92,968.61" stroke="rgba(255,255,255,0.8)" stroke-width="1.6" stroke-linecap="round" fill="none"/>
<ellipse cx="848.6" cy="878.2" rx="8.27" ry="2.4" fill="#b4b4b4" stroke="#606060" stroke-width="0.8"/>
<path d="M825.4,978.95 C825.4,970.43 836.97,968.3 849.5,968.3 C862.03,968.3 873.6,970.43 873.6,978.95 C873.6,987.04 863,989.6 849.5,989.6 C836,989.6 825.4,987.04 825.4,978.95 Z" fill="url(#hdD)" stroke="#555" stroke-width="0.9"/>
<path d="M825.4,978.95 C825.4,970.43 836.97,968.3 849.5,968.3 C862.03,968.3 873.6,970.43 873.6,978.95 C873.6,987.04 863,989.6 849.5,989.6 C836,989.6 825.4,987.04 825.4,978.95 Z" fill="url(#hdDx)"/>
<path d="M831.18,981.51 Q849.5,986.19 867.82,981.51" stroke="#262626" stroke-width="2.56" fill="none" stroke-linecap="round"/>
<path d="M838.9,984.49 Q849.5,986.62 859.14,984.49" stroke="#f0f0f0" stroke-width="1.92" fill="none" stroke-linecap="round"/>
<ellipse cx="848.6" cy="972.99" rx="11.94" ry="3.2" fill="#b8b8b8" stroke="#5a5a5a" stroke-width="0.8"/>
<path d="M872.8,877.3 H893.4 M883.1,877.3 V969.5 M872.8,969.5 H893.4" stroke="#363636" stroke-width="2" fill="none"/>
<path d="M971.25,895.2 Q980.2,890.9 989.15,895.2 L990.36,896.7 L990.36,899 L992.3,901.3 L990.36,903.6 L992.3,905.9 L990.36,908.2 L992.3,910.5 L990.36,912.8 L992.3,915.1 L990.36,917.4 L992.3,919.7 L990.36,922 L992.3,924.3 L990.36,926.6 L992.3,928.9 L990.36,931.2 L992.3,933.5 L990.36,935.8 L992.3,938.1 L990.36,940.4 L992.3,942.7 L990.36,945 L992.3,947.3 L990.36,949.6 L992.3,951.9 L990.36,954.2 L992.3,956.5 L990.36,958.8 L992.3,961.1 L990.36,963.4 L992.3,965.7 L990.36,968 L992.3,970.3 L990.36,972.6 L992.3,974.9 L990.36,972.5 L970.04,972.5 L968.1,972.6 L970.04,970.3 L968.1,968 L970.04,965.7 L968.1,963.4 L970.04,961.1 L968.1,958.8 L970.04,956.5 L968.1,954.2 L970.04,951.9 L968.1,949.6 L970.04,947.3 L968.1,945 L970.04,942.7 L968.1,940.4 L970.04,938.1 L968.1,935.8 L970.04,933.5 L968.1,931.2 L970.04,928.9 L968.1,926.6 L970.04,924.3 L968.1,922 L970.04,919.7 L968.1,917.4 L970.04,915.1 L968.1,912.8 L970.04,910.5 L968.1,908.2 L970.04,905.9 L968.1,903.6 L970.04,901.3 L968.1,899 L970.04,896.7 L970.04,896.7 Z" fill="url(#shD)" stroke="#4a4a4a" stroke-width="0.7" stroke-linejoin="round"/>
<path d="M969.1,899 L991.3,901.3 M969.1,903.6 L991.3,905.9 M969.1,908.2 L991.3,910.5 M969.1,912.8 L991.3,915.1 M969.1,917.4 L991.3,919.7 M969.1,922 L991.3,924.3 M969.1,926.6 L991.3,928.9 M969.1,931.2 L991.3,933.5 M969.1,935.8 L991.3,938.1 M969.1,940.4 L991.3,942.7 M969.1,945 L991.3,947.3 M969.1,949.6 L991.3,951.9 M969.1,954.2 L991.3,956.5 M969.1,958.8 L991.3,961.1 M969.1,963.4 L991.3,965.7 M969.1,968 L991.3,970.3 M969.1,972.6 L991.3,974.9" stroke="rgba(25,25,25,0.55)" stroke-width="1.7" fill="none"/>
<path d="M978.26,897.39 L983.59,898.31 M978.26,901.99 L983.59,902.91 M978.26,906.59 L983.59,907.51 M978.26,911.19 L983.59,912.11 M978.26,915.79 L983.59,916.71 M978.26,920.39 L983.59,921.31 M978.26,924.99 L983.59,925.91 M978.26,929.59 L983.59,930.51 M978.26,934.19 L983.59,935.11 M978.26,938.79 L983.59,939.71 M978.26,943.39 L983.59,944.31 M978.26,947.99 L983.59,948.91 M978.26,952.59 L983.59,953.51 M978.26,957.19 L983.59,958.11 M978.26,961.79 L983.59,962.71 M978.26,966.39 L983.59,967.31 M978.26,970.99 L983.59,971.91" stroke="rgba(255,255,255,0.8)" stroke-width="1.6" stroke-linecap="round" fill="none"/>
<ellipse cx="980.2" cy="895.3" rx="8.45" ry="2.4" fill="#b4b4b4" stroke="#606060" stroke-width="0.8"/>
<path d="M956.7,978.75 C956.7,971.35 968.29,969.5 980.85,969.5 C993.41,969.5 1005,971.35 1005,978.75 C1005,985.78 994.37,988 980.85,988 C967.33,988 956.7,985.78 956.7,978.75 Z" fill="url(#hdD)" stroke="#555" stroke-width="0.9"/>
<path d="M956.7,978.75 C956.7,971.35 968.29,969.5 980.85,969.5 C993.41,969.5 1005,971.35 1005,978.75 C1005,985.78 994.37,988 980.85,988 C967.33,988 956.7,985.78 956.7,978.75 Z" fill="url(#hdDx)"/>
<path d="M962.5,980.97 Q980.85,985.04 999.2,980.97" stroke="#262626" stroke-width="2.22" fill="none" stroke-linecap="round"/>
<path d="M970.22,983.56 Q980.85,985.41 990.51,983.56" stroke="#f0f0f0" stroke-width="1.67" fill="none" stroke-linecap="round"/>
<ellipse cx="980.2" cy="973.57" rx="12.2" ry="2.77" fill="#b8b8b8" stroke="#5a5a5a" stroke-width="0.8"/>
<path d="M1002.2,892.3 H1022.8 M1012.5,892.3 V969.5 M1002.2,969.5 H1022.8" stroke="#363636" stroke-width="2" fill="none"/>
<path d="M1101.19,935.1 Q1110,930.8 1118.81,935.1 L1120,936.6 L1120,938.9 L1121.9,941.2 L1120,943.5 L1121.9,945.8 L1120,948.1 L1121.9,950.4 L1120,952.7 L1121.9,955 L1120,957.3 L1121.9,959.6 L1120,961.9 L1121.9,964.2 L1120,966.5 L1121.9,968.8 L1120,971.1 L1121.9,973.4 L1120,973 L1100,973 L1098.1,971.1 L1100,968.8 L1098.1,966.5 L1100,964.2 L1098.1,961.9 L1100,959.6 L1098.1,957.3 L1100,955 L1098.1,952.7 L1100,950.4 L1098.1,948.1 L1100,945.8 L1098.1,943.5 L1100,941.2 L1098.1,938.9 L1100,936.6 L1100,936.6 Z" fill="url(#shD)" stroke="#4a4a4a" stroke-width="0.7" stroke-linejoin="round"/>
<path d="M1099.1,938.9 L1120.9,941.2 M1099.1,943.5 L1120.9,945.8 M1099.1,948.1 L1120.9,950.4 M1099.1,952.7 L1120.9,955 M1099.1,957.3 L1120.9,959.6 M1099.1,961.9 L1120.9,964.2 M1099.1,966.5 L1120.9,968.8 M1099.1,971.1 L1120.9,973.4" stroke="rgba(25,25,25,0.55)" stroke-width="1.7" fill="none"/>
<path d="M1108.1,937.29 L1113.33,938.21 M1108.1,941.89 L1113.33,942.81 M1108.1,946.49 L1113.33,947.41 M1108.1,951.09 L1113.33,952.01 M1108.1,955.69 L1113.33,956.61 M1108.1,960.29 L1113.33,961.21 M1108.1,964.89 L1113.33,965.81 M1108.1,969.49 L1113.33,970.41" stroke="rgba(255,255,255,0.8)" stroke-width="1.6" stroke-linecap="round" fill="none"/>
<ellipse cx="1110" cy="935.2" rx="8.31" ry="2.4" fill="#b4b4b4" stroke="#606060" stroke-width="0.8"/>
<path d="M1085,980.75 C1085,972.15 1096.76,970 1109.5,970 C1122.24,970 1134,972.15 1134,980.75 C1134,988.92 1123.22,991.5 1109.5,991.5 C1095.78,991.5 1085,988.92 1085,980.75 Z" fill="url(#hdD)" stroke="#555" stroke-width="0.9"/>
<path d="M1085,980.75 C1085,972.15 1096.76,970 1109.5,970 C1122.24,970 1134,972.15 1134,980.75 C1134,988.92 1123.22,991.5 1109.5,991.5 C1095.78,991.5 1085,988.92 1085,980.75 Z" fill="url(#hdDx)"/>
<path d="M1090.88,983.33 Q1109.5,988.06 1128.12,983.33" stroke="#262626" stroke-width="2.58" fill="none" stroke-linecap="round"/>
<path d="M1098.72,986.34 Q1109.5,988.49 1119.3,986.34" stroke="#f0f0f0" stroke-width="1.93" fill="none" stroke-linecap="round"/>
<ellipse cx="1110" cy="974.73" rx="12" ry="3.23" fill="#b8b8b8" stroke="#5a5a5a" stroke-width="0.8"/>
<path d="M1137.6,931.7 H1158.2 M1147.9,931.7 V973.7 M1137.6,973.7 H1158.2" stroke="#363636" stroke-width="2" fill="none"/>
<path d="M1212.34,961.71 Q1210.8,958.9 1212.34,956.09 L1224.54,933.81 Q1226.08,931 1229.28,931 L1253.42,931 Q1256.62,931 1258.16,933.81 L1270.36,956.09 Q1271.9,958.9 1270.36,961.71 L1258.16,983.99 Q1256.62,986.8 1253.42,986.8 L1229.28,986.8 Q1226.08,986.8 1224.54,983.99 Z" fill="url(#nutG)" stroke="#7a7a7a" stroke-width="1.2"/>
<path d="M1226.08,932 L1256.62,932" stroke="#d0d0d0" stroke-width="1.5"/>
<circle cx="1241.35" cy="958.9" r="15.58" fill="#b4b4b4" stroke="#858585" stroke-width="0.9"/>
<circle cx="1241.35" cy="958.9" r="11.61" fill="#f2f2f2" stroke="#4e4e4e" stroke-width="2"/>
<path d="M1231.57,962.57 Q1241.35,973.56 1251.13,962.57" stroke="#cfcfcf" stroke-width="2.2" fill="none"/>
<ellipse cx="1370" cy="958.3" rx="27.9" ry="27.9" fill="url(#wasG)" stroke="#8c8c8c" stroke-width="1.4"/>
<ellipse cx="1370" cy="958.3" rx="25.5" ry="25.5" fill="none" stroke="#e8e8e8" stroke-width="1.4"/>
<ellipse cx="1370" cy="958.3" rx="14.25" ry="14.25" fill="#f4f4f4" stroke="#9a9a9a" stroke-width="1.6"/>
<rect x="402.2" y="997.3" width="95" height="40" rx="20" fill="#000"/>
<rect x="537.5" y="997.3" width="95" height="40" rx="20" fill="#000"/>
<rect x="668.5" y="997.3" width="95" height="40" rx="20" fill="#000"/>
<rect x="801" y="997.3" width="95" height="40" rx="20" fill="#000"/>
<rect x="933" y="997.3" width="95" height="40" rx="20" fill="#000"/>
<rect x="1062.5" y="997.3" width="95" height="40" rx="20" fill="#000"/>
<rect x="1197.2" y="997.3" width="95" height="40" rx="20" fill="#000"/>
<rect x="1324.5" y="997.3" width="95" height="40" rx="20" fill="#000"/>
<path d="M462.56,1072.1 Q472,1067.8 481.44,1072.1 L481.18,1073.6 L481.18,1077.1 L484.75,1080.6 L481.18,1084.1 L484.75,1087.6 L481.18,1091.1 L484.75,1094.6 L481.18,1098.1 L484.75,1101.6 L481.18,1105.1 L484.75,1108.6 L481.18,1112.1 L484.75,1115.6 L481.18,1119.1 L484.75,1122.6 L481.18,1126.1 L484.75,1129.6 L481.18,1133.1 L484.75,1136.6 L481.18,1140.1 L484.75,1143.6 L481.18,1147.1 L484.75,1150.6 L481.18,1154.1 L484.75,1157.6 L481.18,1161.1 L484.75,1164.6 L481.18,1168.1 L484.75,1171.6 L481.18,1175.1 L484.75,1178.6 L481.18,1182.1 L484.75,1185.6 L481.18,1189.1 L484.75,1192.6 L481.18,1196.1 L484.75,1199.6 L481.18,1203.1 L484.75,1206.6 L481.18,1210.1 L484.75,1213.6 L481.18,1217.1 L484.75,1220.6 L481.18,1224.1 L484.75,1227.6 L481.18,1231.1 L484.75,1234.6 L481.18,1238.1 L484.75,1241.6 L481.18,1245.1 L484.75,1248.6 L481.18,1252.1 L484.75,1255.6 L481.18,1259.1 L484.75,1262.6 L481.18,1257.4 L462.82,1257.4 L459.25,1259.1 L462.82,1255.6 L459.25,1252.1 L462.82,1248.6 L459.25,1245.1 L462.82,1241.6 L459.25,1238.1 L462.82,1234.6 L459.25,1231.1 L462.82,1227.6 L459.25,1224.1 L462.82,1220.6 L459.25,1217.1 L462.82,1213.6 L459.25,1210.1 L462.82,1206.6 L459.25,1203.1 L462.82,1199.6 L459.25,1196.1 L462.82,1192.6 L459.25,1189.1 L462.82,1185.6 L459.25,1182.1 L462.82,1178.6 L459.25,1175.1 L462.82,1171.6 L459.25,1168.1 L462.82,1164.6 L459.25,1161.1 L462.82,1157.6 L459.25,1154.1 L462.82,1150.6 L459.25,1147.1 L462.82,1143.6 L459.25,1140.1 L462.82,1136.6 L459.25,1133.1 L462.82,1129.6 L459.25,1126.1 L462.82,1122.6 L459.25,1119.1 L462.82,1115.6 L459.25,1112.1 L462.82,1108.6 L459.25,1105.1 L462.82,1101.6 L459.25,1098.1 L462.82,1094.6 L459.25,1091.1 L462.82,1087.6 L459.25,1084.1 L462.82,1080.6 L459.25,1077.1 L462.82,1073.6 L462.82,1073.6 Z" fill="url(#shL)" stroke="#7c7c7c" stroke-width="1.0" stroke-linejoin="round"/>
<path d="M460.25,1077.1 L483.75,1080.6 M460.25,1084.1 L483.75,1087.6 M460.25,1091.1 L483.75,1094.6 M460.25,1098.1 L483.75,1101.6 M460.25,1105.1 L483.75,1108.6 M460.25,1112.1 L483.75,1115.6 M460.25,1119.1 L483.75,1122.6 M460.25,1126.1 L483.75,1129.6 M460.25,1133.1 L483.75,1136.6 M460.25,1140.1 L483.75,1143.6 M460.25,1147.1 L483.75,1150.6 M460.25,1154.1 L483.75,1157.6 M460.25,1161.1 L483.75,1164.6 M460.25,1168.1 L483.75,1171.6 M460.25,1175.1 L483.75,1178.6 M460.25,1182.1 L483.75,1185.6 M460.25,1189.1 L483.75,1192.6 M460.25,1196.1 L483.75,1199.6 M460.25,1203.1 L483.75,1206.6 M460.25,1210.1 L483.75,1213.6 M460.25,1217.1 L483.75,1220.6 M460.25,1224.1 L483.75,1227.6 M460.25,1231.1 L483.75,1234.6 M460.25,1238.1 L483.75,1241.6 M460.25,1245.1 L483.75,1248.6 M460.25,1252.1 L483.75,1255.6" stroke="rgba(70,70,70,0.62)" stroke-width="1.35" fill="none"/>
<path d="M469.96,1074.65 L475.57,1076.05 M469.96,1081.65 L475.57,1083.05 M469.96,1088.65 L475.57,1090.05 M469.96,1095.65 L475.57,1097.05 M469.96,1102.65 L475.57,1104.05 M469.96,1109.65 L475.57,1111.05 M469.96,1116.65 L475.57,1118.05 M469.96,1123.65 L475.57,1125.05 M469.96,1130.65 L475.57,1132.05 M469.96,1137.65 L475.57,1139.05 M469.96,1144.65 L475.57,1146.05 M469.96,1151.65 L475.57,1153.05 M469.96,1158.65 L475.57,1160.05 M469.96,1165.65 L475.57,1167.05 M469.96,1172.65 L475.57,1174.05 M469.96,1179.65 L475.57,1181.05 M469.96,1186.65 L475.57,1188.05 M469.96,1193.65 L475.57,1195.05 M469.96,1200.65 L475.57,1202.05 M469.96,1207.65 L475.57,1209.05 M469.96,1214.65 L475.57,1216.05 M469.96,1221.65 L475.57,1223.05 M469.96,1228.65 L475.57,1230.05 M469.96,1235.65 L475.57,1237.05 M469.96,1242.65 L475.57,1244.05 M469.96,1249.65 L475.57,1251.05" stroke="rgba(255,255,255,0.7)" stroke-width="1.4" stroke-linecap="round" fill="none"/>
<ellipse cx="472" cy="1072.2" rx="8.94" ry="2.4" fill="#dcdcdc" stroke="#9a9a9a" stroke-width="0.8"/>
<path d="M448.7,1265.05 C448.7,1256.96 459.46,1254.4 473.15,1254.4 C486.84,1254.4 497.6,1256.96 497.6,1265.05 C497.6,1273.57 487.82,1275.7 473.15,1275.7 C458.48,1275.7 448.7,1273.57 448.7,1265.05 Z" fill="url(#hdL)" stroke="#a2a2a2" stroke-width="0.9"/>
<path d="M448.7,1265.05 C448.7,1256.96 459.46,1254.4 473.15,1254.4 C486.84,1254.4 497.6,1256.96 497.6,1265.05 C497.6,1273.57 487.82,1275.7 473.15,1275.7 C458.48,1275.7 448.7,1273.57 448.7,1265.05 Z" fill="url(#hdLx)"/>
<path d="M452.61,1260.79 Q473.15,1265.05 493.69,1260.79" stroke="#a6a6a6" stroke-width="1.1" fill="none"/>
<ellipse cx="472" cy="1258.66" rx="10.65" ry="2.77" fill="#e2e2e2"/>
<path d="M496.4,1072.3 H517 M506.7,1072.3 V1255.9 M496.4,1255.9 H517" stroke="#363636" stroke-width="2" fill="none"/>
<path d="M636.6,1113.5 Q648,1109.2 659.4,1113.5 L659.09,1115 L659.09,1118.5 L663.4,1122 L659.09,1125.5 L663.4,1129 L659.09,1132.5 L663.4,1136 L659.09,1139.5 L663.4,1143 L659.09,1146.5 L663.4,1150 L659.09,1153.5 L663.4,1157 L659.09,1160.5 L663.4,1164 L659.09,1167.5 L663.4,1171 L659.09,1174.5 L663.4,1178 L659.09,1181.5 L663.4,1185 L659.09,1188.5 L663.4,1192 L659.09,1195.5 L663.4,1199 L659.09,1202.5 L663.4,1206 L659.09,1209.5 L663.4,1213 L659.09,1216.5 L663.4,1220 L659.09,1223.5 L663.4,1227 L659.09,1230.5 L663.4,1234 L659.09,1237.5 L663.4,1241 L659.09,1244.5 L663.4,1248 L659.09,1251.5 L663.4,1255 L659.09,1251 L636.91,1251 L632.6,1251.5 L636.91,1248 L632.6,1244.5 L636.91,1241 L632.6,1237.5 L636.91,1234 L632.6,1230.5 L636.91,1227 L632.6,1223.5 L636.91,1220 L632.6,1216.5 L636.91,1213 L632.6,1209.5 L636.91,1206 L632.6,1202.5 L636.91,1199 L632.6,1195.5 L636.91,1192 L632.6,1188.5 L636.91,1185 L632.6,1181.5 L636.91,1178 L632.6,1174.5 L636.91,1171 L632.6,1167.5 L636.91,1164 L632.6,1160.5 L636.91,1157 L632.6,1153.5 L636.91,1150 L632.6,1146.5 L636.91,1143 L632.6,1139.5 L636.91,1136 L632.6,1132.5 L636.91,1129 L632.6,1125.5 L636.91,1122 L632.6,1118.5 L636.91,1115 L636.91,1115 Z" fill="url(#shL)" stroke="#7c7c7c" stroke-width="1.0" stroke-linejoin="round"/>
<path d="M633.6,1118.5 L662.4,1122 M633.6,1125.5 L662.4,1129 M633.6,1132.5 L662.4,1136 M633.6,1139.5 L662.4,1143 M633.6,1146.5 L662.4,1150 M633.6,1153.5 L662.4,1157 M633.6,1160.5 L662.4,1164 M633.6,1167.5 L662.4,1171 M633.6,1174.5 L662.4,1178 M633.6,1181.5 L662.4,1185 M633.6,1188.5 L662.4,1192 M633.6,1195.5 L662.4,1199 M633.6,1202.5 L662.4,1206 M633.6,1209.5 L662.4,1213 M633.6,1216.5 L662.4,1220 M633.6,1223.5 L662.4,1227 M633.6,1230.5 L662.4,1234 M633.6,1237.5 L662.4,1241 M633.6,1244.5 L662.4,1248 M633.6,1251.5 L662.4,1255" stroke="rgba(70,70,70,0.62)" stroke-width="1.35" fill="none"/>
<path d="M645.54,1116.05 L652.31,1117.45 M645.54,1123.05 L652.31,1124.45 M645.54,1130.05 L652.31,1131.45 M645.54,1137.05 L652.31,1138.45 M645.54,1144.05 L652.31,1145.45 M645.54,1151.05 L652.31,1152.45 M645.54,1158.05 L652.31,1159.45 M645.54,1165.05 L652.31,1166.45 M645.54,1172.05 L652.31,1173.45 M645.54,1179.05 L652.31,1180.45 M645.54,1186.05 L652.31,1187.45 M645.54,1193.05 L652.31,1194.45 M645.54,1200.05 L652.31,1201.45 M645.54,1207.05 L652.31,1208.45 M645.54,1214.05 L652.31,1215.45 M645.54,1221.05 L652.31,1222.45 M645.54,1228.05 L652.31,1229.45 M645.54,1235.05 L652.31,1236.45 M645.54,1242.05 L652.31,1243.45 M645.54,1249.05 L652.31,1250.45" stroke="rgba(255,255,255,0.7)" stroke-width="1.4" stroke-linecap="round" fill="none"/>
<ellipse cx="648" cy="1113.6" rx="10.9" ry="2.4" fill="#dcdcdc" stroke="#9a9a9a" stroke-width="0.8"/>
<path d="M618.7,1262.35 C618.7,1251.44 632.25,1248 649.5,1248 C666.75,1248 680.3,1251.44 680.3,1262.35 C680.3,1273.83 667.98,1276.7 649.5,1276.7 C631.02,1276.7 618.7,1273.83 618.7,1262.35 Z" fill="url(#hdL)" stroke="#a2a2a2" stroke-width="0.9"/>
<path d="M618.7,1262.35 C618.7,1251.44 632.25,1248 649.5,1248 C666.75,1248 680.3,1251.44 680.3,1262.35 C680.3,1273.83 667.98,1276.7 649.5,1276.7 C631.02,1276.7 618.7,1273.83 618.7,1262.35 Z" fill="url(#hdLx)"/>
<path d="M623.63,1256.61 Q649.5,1262.35 675.37,1256.61" stroke="#a6a6a6" stroke-width="1.1" fill="none"/>
<ellipse cx="648" cy="1253.74" rx="12.86" ry="3.73" fill="#e2e2e2"/>
<path d="M674.3,1111.6 H694.9 M684.6,1111.6 V1255.9 M674.3,1255.9 H694.9" stroke="#363636" stroke-width="2" fill="none"/>
<path d="M814.9,1138.1 Q826,1133.8 837.1,1138.1 L836.8,1139.6 L836.8,1143.1 L841,1146.6 L836.8,1150.1 L841,1153.6 L836.8,1157.1 L841,1160.6 L836.8,1164.1 L841,1167.6 L836.8,1171.1 L841,1174.6 L836.8,1178.1 L841,1181.6 L836.8,1185.1 L841,1188.6 L836.8,1192.1 L841,1195.6 L836.8,1199.1 L841,1202.6 L836.8,1206.1 L841,1209.6 L836.8,1213.1 L841,1216.6 L836.8,1220.1 L841,1223.6 L836.8,1227.1 L841,1230.6 L836.8,1234.1 L841,1237.6 L836.8,1241.1 L841,1244.6 L836.8,1248.1 L841,1251.6 L836.8,1251 L815.2,1251 L811,1248.1 L815.2,1244.6 L811,1241.1 L815.2,1237.6 L811,1234.1 L815.2,1230.6 L811,1227.1 L815.2,1223.6 L811,1220.1 L815.2,1216.6 L811,1213.1 L815.2,1209.6 L811,1206.1 L815.2,1202.6 L811,1199.1 L815.2,1195.6 L811,1192.1 L815.2,1188.6 L811,1185.1 L815.2,1181.6 L811,1178.1 L815.2,1174.6 L811,1171.1 L815.2,1167.6 L811,1164.1 L815.2,1160.6 L811,1157.1 L815.2,1153.6 L811,1150.1 L815.2,1146.6 L811,1143.1 L815.2,1139.6 L815.2,1139.6 Z" fill="url(#shL)" stroke="#7c7c7c" stroke-width="1.0" stroke-linejoin="round"/>
<path d="M812,1143.1 L840,1146.6 M812,1150.1 L840,1153.6 M812,1157.1 L840,1160.6 M812,1164.1 L840,1167.6 M812,1171.1 L840,1174.6 M812,1178.1 L840,1181.6 M812,1185.1 L840,1188.6 M812,1192.1 L840,1195.6 M812,1199.1 L840,1202.6 M812,1206.1 L840,1209.6 M812,1213.1 L840,1216.6 M812,1220.1 L840,1223.6 M812,1227.1 L840,1230.6 M812,1234.1 L840,1237.6 M812,1241.1 L840,1244.6 M812,1248.1 L840,1251.6" stroke="rgba(70,70,70,0.62)" stroke-width="1.35" fill="none"/>
<path d="M823.6,1140.65 L830.2,1142.05 M823.6,1147.65 L830.2,1149.05 M823.6,1154.65 L830.2,1156.05 M823.6,1161.65 L830.2,1163.05 M823.6,1168.65 L830.2,1170.05 M823.6,1175.65 L830.2,1177.05 M823.6,1182.65 L830.2,1184.05 M823.6,1189.65 L830.2,1191.05 M823.6,1196.65 L830.2,1198.05 M823.6,1203.65 L830.2,1205.05 M823.6,1210.65 L830.2,1212.05 M823.6,1217.65 L830.2,1219.05 M823.6,1224.65 L830.2,1226.05 M823.6,1231.65 L830.2,1233.05 M823.6,1238.65 L830.2,1240.05 M823.6,1245.65 L830.2,1247.05" stroke="rgba(255,255,255,0.7)" stroke-width="1.4" stroke-linecap="round" fill="none"/>
<ellipse cx="826" cy="1138.2" rx="10.6" ry="2.4" fill="#dcdcdc" stroke="#9a9a9a" stroke-width="0.8"/>
<path d="M795,1261.5 C795,1251.24 808.51,1248 825.7,1248 C842.89,1248 856.4,1251.24 856.4,1261.5 C856.4,1272.3 844.12,1275 825.7,1275 C807.28,1275 795,1272.3 795,1261.5 Z" fill="url(#hdL)" stroke="#a2a2a2" stroke-width="0.9"/>
<path d="M795,1261.5 C795,1251.24 808.51,1248 825.7,1248 C842.89,1248 856.4,1251.24 856.4,1261.5 C856.4,1272.3 844.12,1275 825.7,1275 C807.28,1275 795,1272.3 795,1261.5 Z" fill="url(#hdLx)"/>
<path d="M799.91,1256.1 Q825.7,1261.5 851.49,1256.1" stroke="#a6a6a6" stroke-width="1.1" fill="none"/>
<ellipse cx="826" cy="1253.4" rx="12.53" ry="3.51" fill="#e2e2e2"/>
<path d="M849.7,1135.6 H870.3 M860,1135.6 V1256.4 M849.7,1256.4 H870.3" stroke="#363636" stroke-width="2" fill="none"/>
<path d="M997.16,1157.5 Q1009,1153.2 1020.84,1157.5 L1020.52,1159 L1020.52,1162.5 L1025,1166 L1020.52,1169.5 L1025,1173 L1020.52,1176.5 L1025,1180 L1020.52,1183.5 L1025,1187 L1020.52,1190.5 L1025,1194 L1020.52,1197.5 L1025,1201 L1020.52,1204.5 L1025,1208 L1020.52,1211.5 L1025,1215 L1020.52,1218.5 L1025,1222 L1020.52,1225.5 L1025,1229 L1020.52,1232.5 L1025,1236 L1020.52,1239.5 L1025,1243 L1020.52,1246.5 L1025,1250 L1020.52,1253.5 L1025,1257 L1020.52,1251 L997.48,1251 L993,1253.5 L997.48,1250 L993,1246.5 L997.48,1243 L993,1239.5 L997.48,1236 L993,1232.5 L997.48,1229 L993,1225.5 L997.48,1222 L993,1218.5 L997.48,1215 L993,1211.5 L997.48,1208 L993,1204.5 L997.48,1201 L993,1197.5 L997.48,1194 L993,1190.5 L997.48,1187 L993,1183.5 L997.48,1180 L993,1176.5 L997.48,1173 L993,1169.5 L997.48,1166 L993,1162.5 L997.48,1159 L997.48,1159 Z" fill="url(#shL)" stroke="#7c7c7c" stroke-width="1.0" stroke-linejoin="round"/>
<path d="M994,1162.5 L1024,1166 M994,1169.5 L1024,1173 M994,1176.5 L1024,1180 M994,1183.5 L1024,1187 M994,1190.5 L1024,1194 M994,1197.5 L1024,1201 M994,1204.5 L1024,1208 M994,1211.5 L1024,1215 M994,1218.5 L1024,1222 M994,1225.5 L1024,1229 M994,1232.5 L1024,1236 M994,1239.5 L1024,1243 M994,1246.5 L1024,1250" stroke="rgba(70,70,70,0.62)" stroke-width="1.35" fill="none"/>
<path d="M1006.44,1160.05 L1013.48,1161.45 M1006.44,1167.05 L1013.48,1168.45 M1006.44,1174.05 L1013.48,1175.45 M1006.44,1181.05 L1013.48,1182.45 M1006.44,1188.05 L1013.48,1189.45 M1006.44,1195.05 L1013.48,1196.45 M1006.44,1202.05 L1013.48,1203.45 M1006.44,1209.05 L1013.48,1210.45 M1006.44,1216.05 L1013.48,1217.45 M1006.44,1223.05 L1013.48,1224.45 M1006.44,1230.05 L1013.48,1231.45 M1006.44,1237.05 L1013.48,1238.45 M1006.44,1244.05 L1013.48,1245.45" stroke="rgba(255,255,255,0.7)" stroke-width="1.4" stroke-linecap="round" fill="none"/>
<ellipse cx="1009" cy="1157.6" rx="11.34" ry="2.4" fill="#dcdcdc" stroke="#9a9a9a" stroke-width="0.8"/>
<path d="M975.6,1261.5 C975.6,1251.24 989.55,1248 1007.3,1248 C1025.05,1248 1039,1251.24 1039,1261.5 C1039,1272.3 1026.32,1275 1007.3,1275 C988.28,1275 975.6,1272.3 975.6,1261.5 Z" fill="url(#hdL)" stroke="#a2a2a2" stroke-width="0.9"/>
<path d="M975.6,1261.5 C975.6,1251.24 989.55,1248 1007.3,1248 C1025.05,1248 1039,1251.24 1039,1261.5 C1039,1272.3 1026.32,1275 1007.3,1275 C988.28,1275 975.6,1272.3 975.6,1261.5 Z" fill="url(#hdLx)"/>
<path d="M980.67,1256.1 Q1007.3,1261.5 1033.93,1256.1" stroke="#a6a6a6" stroke-width="1.1" fill="none"/>
<ellipse cx="1009" cy="1253.4" rx="13.36" ry="3.51" fill="#e2e2e2"/>
<path d="M1030.7,1155 H1051.3 M1041,1155 V1256.4 M1030.7,1256.4 H1051.3" stroke="#363636" stroke-width="2" fill="none"/>
<path d="M1155.93,1247.81 Q1154.4,1245 1155.93,1242.19 L1168.17,1219.81 Q1169.7,1217 1172.9,1217 L1197.1,1217 Q1200.3,1217 1201.83,1219.81 L1214.07,1242.19 Q1215.6,1245 1214.07,1247.81 L1201.83,1270.19 Q1200.3,1273 1197.1,1273 L1172.9,1273 Q1169.7,1273 1168.17,1270.19 Z" fill="url(#nutG)" stroke="#7a7a7a" stroke-width="1.2"/>
<path d="M1169.7,1218 L1200.3,1218" stroke="#d0d0d0" stroke-width="1.5"/>
<circle cx="1185" cy="1245" r="15.61" fill="#b4b4b4" stroke="#858585" stroke-width="0.9"/>
<circle cx="1185" cy="1245" r="11.63" fill="#f2f2f2" stroke="#4e4e4e" stroke-width="2"/>
<path d="M1175.21,1248.67 Q1185,1259.69 1194.79,1248.67" stroke="#cfcfcf" stroke-width="2.2" fill="none"/>
<ellipse cx="1363.2" cy="1243.5" rx="28.6" ry="27.9" fill="url(#wasG)" stroke="#8c8c8c" stroke-width="1.4"/>
<ellipse cx="1363.2" cy="1243.5" rx="26.2" ry="25.5" fill="none" stroke="#e8e8e8" stroke-width="1.4"/>
<ellipse cx="1363.2" cy="1243.5" rx="14.6" ry="14.25" fill="#f4f4f4" stroke="#9a9a9a" stroke-width="1.6"/>
<rect x="425" y="1284" width="95" height="40" rx="20" fill="#000"/>
<rect x="602" y="1284" width="95" height="40" rx="20" fill="#000"/>
<rect x="778" y="1284" width="95" height="40" rx="20" fill="#000"/>
<rect x="958.5" y="1284" width="95" height="40" rx="20" fill="#000"/>
<rect x="1136.5" y="1284" width="95" height="40" rx="20" fill="#000"/>
<rect x="1314.5" y="1284" width="95" height="40" rx="20" fill="#000"/>
<path d="M438.84,1362.25 Q448.2,1357.95 457.56,1362.25 L458.83,1363.75 L458.83,1366.4 L460.85,1369.05 L458.83,1371.7 L460.85,1374.35 L458.83,1377 L460.85,1379.65 L458.83,1382.3 L460.85,1384.95 L458.83,1387.6 L460.85,1390.25 L458.83,1392.9 L460.85,1395.55 L458.83,1398.2 L460.85,1400.85 L458.83,1403.5 L460.85,1406.15 L458.83,1408.8 L460.85,1411.45 L458.83,1414.1 L460.85,1416.75 L458.83,1419.4 L460.85,1422.05 L458.83,1424.7 L460.85,1427.35 L458.83,1430 L460.85,1432.65 L458.83,1435.3 L460.85,1437.95 L458.83,1440.6 L460.85,1443.25 L458.83,1445.9 L460.85,1448.55 L458.83,1451.2 L460.85,1453.85 L458.83,1456.5 L460.85,1459.15 L458.83,1461.8 L460.85,1464.45 L458.83,1467.1 L460.85,1469.75 L458.83,1472.4 L460.85,1475.05 L458.83,1477.7 L460.85,1480.35 L458.83,1483 L460.85,1485.65 L458.83,1488.3 L460.85,1490.95 L458.83,1493.6 L460.85,1496.25 L458.83,1498.9 L460.85,1501.55 L458.83,1504.2 L460.85,1506.85 L458.83,1509.5 L460.85,1512.15 L458.83,1514.8 L460.85,1517.45 L458.83,1520.1 L460.85,1522.75 L458.83,1525.4 L460.85,1528.05 L458.83,1530.7 L460.85,1533.35 L458.83,1536 L460.85,1538.65 L458.83,1541.3 L460.85,1543.95 L458.83,1546.6 L460.85,1549.25 L458.83,1544.3 L437.57,1544.3 L435.55,1546.6 L437.57,1543.95 L435.55,1541.3 L437.57,1538.65 L435.55,1536 L437.57,1533.35 L435.55,1530.7 L437.57,1528.05 L435.55,1525.4 L437.57,1522.75 L435.55,1520.1 L437.57,1517.45 L435.55,1514.8 L437.57,1512.15 L435.55,1509.5 L437.57,1506.85 L435.55,1504.2 L437.57,1501.55 L435.55,1498.9 L437.57,1496.25 L435.55,1493.6 L437.57,1490.95 L435.55,1488.3 L437.57,1485.65 L435.55,1483 L437.57,1480.35 L435.55,1477.7 L437.57,1475.05 L435.55,1472.4 L437.57,1469.75 L435.55,1467.1 L437.57,1464.45 L435.55,1461.8 L437.57,1459.15 L435.55,1456.5 L437.57,1453.85 L435.55,1451.2 L437.57,1448.55 L435.55,1445.9 L437.57,1443.25 L435.55,1440.6 L437.57,1437.95 L435.55,1435.3 L437.57,1432.65 L435.55,1430 L437.57,1427.35 L435.55,1424.7 L437.57,1422.05 L435.55,1419.4 L437.57,1416.75 L435.55,1414.1 L437.57,1411.45 L435.55,1408.8 L437.57,1406.15 L435.55,1403.5 L437.57,1400.85 L435.55,1398.2 L437.57,1395.55 L435.55,1392.9 L437.57,1390.25 L435.55,1387.6 L437.57,1384.95 L435.55,1382.3 L437.57,1379.65 L435.55,1377 L437.57,1374.35 L435.55,1371.7 L437.57,1369.05 L435.55,1366.4 L437.57,1363.75 L437.57,1363.75 Z" fill="url(#shD)" stroke="#4a4a4a" stroke-width="0.7" stroke-linejoin="round"/>
<path d="M436.55,1366.4 L459.85,1369.05 M436.55,1371.7 L459.85,1374.35 M436.55,1377 L459.85,1379.65 M436.55,1382.3 L459.85,1384.95 M436.55,1387.6 L459.85,1390.25 M436.55,1392.9 L459.85,1395.55 M436.55,1398.2 L459.85,1400.85 M436.55,1403.5 L459.85,1406.15 M436.55,1408.8 L459.85,1411.45 M436.55,1414.1 L459.85,1416.75 M436.55,1419.4 L459.85,1422.05 M436.55,1424.7 L459.85,1427.35 M436.55,1430 L459.85,1432.65 M436.55,1435.3 L459.85,1437.95 M436.55,1440.6 L459.85,1443.25 M436.55,1445.9 L459.85,1448.55 M436.55,1451.2 L459.85,1453.85 M436.55,1456.5 L459.85,1459.15 M436.55,1461.8 L459.85,1464.45 M436.55,1467.1 L459.85,1469.75 M436.55,1472.4 L459.85,1475.05 M436.55,1477.7 L459.85,1480.35 M436.55,1483 L459.85,1485.65 M436.55,1488.3 L459.85,1490.95 M436.55,1493.6 L459.85,1496.25 M436.55,1498.9 L459.85,1501.55 M436.55,1504.2 L459.85,1506.85 M436.55,1509.5 L459.85,1512.15 M436.55,1514.8 L459.85,1517.45 M436.55,1520.1 L459.85,1522.75 M436.55,1525.4 L459.85,1528.05 M436.55,1530.7 L459.85,1533.35 M436.55,1536 L459.85,1538.65 M436.55,1541.3 L459.85,1543.95" stroke="rgba(25,25,25,0.55)" stroke-width="1.7" fill="none"/>
<path d="M446.18,1364.55 L451.74,1365.61 M446.18,1369.85 L451.74,1370.9 M446.18,1375.14 L451.74,1376.2 M446.18,1380.44 L451.74,1381.5 M446.18,1385.74 L451.74,1386.8 M446.18,1391.04 L451.74,1392.1 M446.18,1396.34 L451.74,1397.4 M446.18,1401.64 L451.74,1402.7 M446.18,1406.94 L451.74,1408 M446.18,1412.24 L451.74,1413.3 M446.18,1417.54 L451.74,1418.6 M446.18,1422.84 L451.74,1423.9 M446.18,1428.14 L451.74,1429.2 M446.18,1433.44 L451.74,1434.5 M446.18,1438.74 L451.74,1439.8 M446.18,1444.04 L451.74,1445.1 M446.18,1449.34 L451.74,1450.4 M446.18,1454.64 L451.74,1455.7 M446.18,1459.94 L451.74,1461 M446.18,1465.24 L451.74,1466.3 M446.18,1470.54 L451.74,1471.6 M446.18,1475.84 L451.74,1476.9 M446.18,1481.14 L451.74,1482.2 M446.18,1486.44 L451.74,1487.5 M446.18,1491.74 L451.74,1492.8 M446.18,1497.04 L451.74,1498.1 M446.18,1502.34 L451.74,1503.4 M446.18,1507.64 L451.74,1508.7 M446.18,1512.94 L451.74,1514 M446.18,1518.24 L451.74,1519.3 M446.18,1523.54 L451.74,1524.6 M446.18,1528.84 L451.74,1529.9 M446.18,1534.14 L451.74,1535.2 M446.18,1539.44 L451.74,1540.5" stroke="rgba(255,255,255,0.8)" stroke-width="1.6" stroke-linecap="round" fill="none"/>
<ellipse cx="448.2" cy="1362.35" rx="8.86" ry="2.4" fill="#b4b4b4" stroke="#606060" stroke-width="0.8"/>
<path d="M423.4,1553.45 C423.4,1543.73 435.54,1541.3 448.7,1541.3 C461.86,1541.3 474,1543.73 474,1553.45 C474,1562.68 462.87,1565.6 448.7,1565.6 C434.53,1565.6 423.4,1562.68 423.4,1553.45 Z" fill="url(#hdD)" stroke="#555" stroke-width="0.9"/>
<path d="M423.4,1553.45 C423.4,1543.73 435.54,1541.3 448.7,1541.3 C461.86,1541.3 474,1543.73 474,1553.45 C474,1562.68 462.87,1565.6 448.7,1565.6 C434.53,1565.6 423.4,1562.68 423.4,1553.45 Z" fill="url(#hdDx)"/>
<path d="M429.47,1556.37 Q448.7,1561.71 467.93,1556.37" stroke="#262626" stroke-width="2.92" fill="none" stroke-linecap="round"/>
<path d="M437.57,1559.77 Q448.7,1562.2 458.82,1559.77" stroke="#f0f0f0" stroke-width="2.19" fill="none" stroke-linecap="round"/>
<ellipse cx="448.2" cy="1546.65" rx="12.75" ry="3.64" fill="#b8b8b8" stroke="#5a5a5a" stroke-width="0.8"/>
<path d="M471.8,1361.25 H492.4 M482.1,1361.25 V1545 M471.8,1545 H492.4" stroke="#363636" stroke-width="2" fill="none"/>
<path d="M573.47,1408.4 Q583,1404.1 592.53,1408.4 L593.82,1409.9 L593.82,1412.55 L595.88,1415.2 L593.82,1417.85 L595.88,1420.5 L593.82,1423.15 L595.88,1425.8 L593.82,1428.45 L595.88,1431.1 L593.82,1433.75 L595.88,1436.4 L593.82,1439.05 L595.88,1441.7 L593.82,1444.35 L595.88,1447 L593.82,1449.65 L595.88,1452.3 L593.82,1454.95 L595.88,1457.6 L593.82,1460.25 L595.88,1462.9 L593.82,1465.55 L595.88,1468.2 L593.82,1470.85 L595.88,1473.5 L593.82,1476.15 L595.88,1478.8 L593.82,1481.45 L595.88,1484.1 L593.82,1486.75 L595.88,1489.4 L593.82,1492.05 L595.88,1494.7 L593.82,1497.35 L595.88,1500 L593.82,1502.65 L595.88,1505.3 L593.82,1507.95 L595.88,1510.6 L593.82,1513.25 L595.88,1515.9 L593.82,1518.55 L595.88,1521.2 L593.82,1523.85 L595.88,1526.5 L593.82,1529.15 L595.88,1531.8 L593.82,1534.45 L595.88,1537.1 L593.82,1539.75 L595.88,1542.4 L593.82,1545.05 L595.88,1547.7 L593.82,1546.1 L572.18,1546.1 L570.12,1545.05 L572.18,1542.4 L570.12,1539.75 L572.18,1537.1 L570.12,1534.45 L572.18,1531.8 L570.12,1529.15 L572.18,1526.5 L570.12,1523.85 L572.18,1521.2 L570.12,1518.55 L572.18,1515.9 L570.12,1513.25 L572.18,1510.6 L570.12,1507.95 L572.18,1505.3 L570.12,1502.65 L572.18,1500 L570.12,1497.35 L572.18,1494.7 L570.12,1492.05 L572.18,1489.4 L570.12,1486.75 L572.18,1484.1 L570.12,1481.45 L572.18,1478.8 L570.12,1476.15 L572.18,1473.5 L570.12,1470.85 L572.18,1468.2 L570.12,1465.55 L572.18,1462.9 L570.12,1460.25 L572.18,1457.6 L570.12,1454.95 L572.18,1452.3 L570.12,1449.65 L572.18,1447 L570.12,1444.35 L572.18,1441.7 L570.12,1439.05 L572.18,1436.4 L570.12,1433.75 L572.18,1431.1 L570.12,1428.45 L572.18,1425.8 L570.12,1423.15 L572.18,1420.5 L570.12,1417.85 L572.18,1415.2 L570.12,1412.55 L572.18,1409.9 L572.18,1409.9 Z" fill="url(#shD)" stroke="#4a4a4a" stroke-width="0.7" stroke-linejoin="round"/>
<path d="M571.12,1412.55 L594.88,1415.2 M571.12,1417.85 L594.88,1420.5 M571.12,1423.15 L594.88,1425.8 M571.12,1428.45 L594.88,1431.1 M571.12,1433.75 L594.88,1436.4 M571.12,1439.05 L594.88,1441.7 M571.12,1444.35 L594.88,1447 M571.12,1449.65 L594.88,1452.3 M571.12,1454.95 L594.88,1457.6 M571.12,1460.25 L594.88,1462.9 M571.12,1465.55 L594.88,1468.2 M571.12,1470.85 L594.88,1473.5 M571.12,1476.15 L594.88,1478.8 M571.12,1481.45 L594.88,1484.1 M571.12,1486.75 L594.88,1489.4 M571.12,1492.05 L594.88,1494.7 M571.12,1497.35 L594.88,1500 M571.12,1502.65 L594.88,1505.3 M571.12,1507.95 L594.88,1510.6 M571.12,1513.25 L594.88,1515.9 M571.12,1518.55 L594.88,1521.2 M571.12,1523.85 L594.88,1526.5 M571.12,1529.15 L594.88,1531.8 M571.12,1534.45 L594.88,1537.1 M571.12,1539.75 L594.88,1542.4 M571.12,1545.05 L594.88,1547.7" stroke="rgba(25,25,25,0.55)" stroke-width="1.7" fill="none"/>
<path d="M580.94,1410.7 L586.61,1411.76 M580.94,1416 L586.61,1417.06 M580.94,1421.3 L586.61,1422.36 M580.94,1426.6 L586.61,1427.65 M580.94,1431.89 L586.61,1432.95 M580.94,1437.19 L586.61,1438.25 M580.94,1442.49 L586.61,1443.55 M580.94,1447.79 L586.61,1448.85 M580.94,1453.09 L586.61,1454.15 M580.94,1458.39 L586.61,1459.45 M580.94,1463.69 L586.61,1464.75 M580.94,1468.99 L586.61,1470.05 M580.94,1474.29 L586.61,1475.35 M580.94,1479.59 L586.61,1480.65 M580.94,1484.89 L586.61,1485.95 M580.94,1490.19 L586.61,1491.25 M580.94,1495.49 L586.61,1496.55 M580.94,1500.79 L586.61,1501.85 M580.94,1506.09 L586.61,1507.15 M580.94,1511.39 L586.61,1512.45 M580.94,1516.69 L586.61,1517.75 M580.94,1521.99 L586.61,1523.05 M580.94,1527.29 L586.61,1528.35 M580.94,1532.59 L586.61,1533.65 M580.94,1537.89 L586.61,1538.95 M580.94,1543.19 L586.61,1544.25" stroke="rgba(255,255,255,0.8)" stroke-width="1.6" stroke-linecap="round" fill="none"/>
<ellipse cx="583" cy="1408.5" rx="9.03" ry="2.4" fill="#b4b4b4" stroke="#606060" stroke-width="0.8"/>
<path d="M559,1555.3 C559,1545.54 570.78,1543.1 583.55,1543.1 C596.32,1543.1 608.1,1545.54 608.1,1555.3 C608.1,1564.57 597.3,1567.5 583.55,1567.5 C569.8,1567.5 559,1564.57 559,1555.3 Z" fill="url(#hdD)" stroke="#555" stroke-width="0.9"/>
<path d="M559,1555.3 C559,1545.54 570.78,1543.1 583.55,1543.1 C596.32,1543.1 608.1,1545.54 608.1,1555.3 C608.1,1564.57 597.3,1567.5 583.55,1567.5 C569.8,1567.5 559,1564.57 559,1555.3 Z" fill="url(#hdDx)"/>
<path d="M564.89,1558.23 Q583.55,1563.6 602.21,1558.23" stroke="#262626" stroke-width="2.93" fill="none" stroke-linecap="round"/>
<path d="M572.75,1561.64 Q583.55,1564.08 593.37,1561.64" stroke="#f0f0f0" stroke-width="2.2" fill="none" stroke-linecap="round"/>
<ellipse cx="583" cy="1548.47" rx="12.98" ry="3.66" fill="#b8b8b8" stroke="#5a5a5a" stroke-width="0.8"/>
<path d="M606.3,1399.7 H626.9 M616.6,1399.7 V1545 M606.3,1545 H626.9" stroke="#363636" stroke-width="2" fill="none"/>
<path d="M703.39,1432 Q712.6,1427.7 721.81,1432 L723.06,1433.5 L723.06,1436.15 L725.05,1438.8 L723.06,1441.45 L725.05,1444.1 L723.06,1446.75 L725.05,1449.4 L723.06,1452.05 L725.05,1454.7 L723.06,1457.35 L725.05,1460 L723.06,1462.65 L725.05,1465.3 L723.06,1467.95 L725.05,1470.6 L723.06,1473.25 L725.05,1475.9 L723.06,1478.55 L725.05,1481.2 L723.06,1483.85 L725.05,1486.5 L723.06,1489.15 L725.05,1491.8 L723.06,1494.45 L725.05,1497.1 L723.06,1499.75 L725.05,1502.4 L723.06,1505.05 L725.05,1507.7 L723.06,1510.35 L725.05,1513 L723.06,1515.65 L725.05,1518.3 L723.06,1520.95 L725.05,1523.6 L723.06,1526.25 L725.05,1528.9 L723.06,1531.55 L725.05,1534.2 L723.06,1536.85 L725.05,1539.5 L723.06,1542.15 L725.05,1544.8 L723.06,1547.45 L725.05,1550.1 L723.06,1546 L702.14,1546 L700.15,1547.45 L702.14,1544.8 L700.15,1542.15 L702.14,1539.5 L700.15,1536.85 L702.14,1534.2 L700.15,1531.55 L702.14,1528.9 L700.15,1526.25 L702.14,1523.6 L700.15,1520.95 L702.14,1518.3 L700.15,1515.65 L702.14,1513 L700.15,1510.35 L702.14,1507.7 L700.15,1505.05 L702.14,1502.4 L700.15,1499.75 L702.14,1497.1 L700.15,1494.45 L702.14,1491.8 L700.15,1489.15 L702.14,1486.5 L700.15,1483.85 L702.14,1481.2 L700.15,1478.55 L702.14,1475.9 L700.15,1473.25 L702.14,1470.6 L700.15,1467.95 L702.14,1465.3 L700.15,1462.65 L702.14,1460 L700.15,1457.35 L702.14,1454.7 L700.15,1452.05 L702.14,1449.4 L700.15,1446.75 L702.14,1444.1 L700.15,1441.45 L702.14,1438.8 L700.15,1436.15 L702.14,1433.5 L702.14,1433.5 Z" fill="url(#shD)" stroke="#4a4a4a" stroke-width="0.7" stroke-linejoin="round"/>
<path d="M701.15,1436.15 L724.05,1438.8 M701.15,1441.45 L724.05,1444.1 M701.15,1446.75 L724.05,1449.4 M701.15,1452.05 L724.05,1454.7 M701.15,1457.35 L724.05,1460 M701.15,1462.65 L724.05,1465.3 M701.15,1467.95 L724.05,1470.6 M701.15,1473.25 L724.05,1475.9 M701.15,1478.55 L724.05,1481.2 M701.15,1483.85 L724.05,1486.5 M701.15,1489.15 L724.05,1491.8 M701.15,1494.45 L724.05,1497.1 M701.15,1499.75 L724.05,1502.4 M701.15,1505.05 L724.05,1507.7 M701.15,1510.35 L724.05,1513 M701.15,1515.65 L724.05,1518.3 M701.15,1520.95 L724.05,1523.6 M701.15,1526.25 L724.05,1528.9 M701.15,1531.55 L724.05,1534.2 M701.15,1536.85 L724.05,1539.5 M701.15,1542.15 L724.05,1544.8" stroke="rgba(25,25,25,0.55)" stroke-width="1.7" fill="none"/>
<path d="M710.61,1434.3 L716.09,1435.36 M710.61,1439.6 L716.09,1440.65 M710.61,1444.89 L716.09,1445.95 M710.61,1450.19 L716.09,1451.25 M710.61,1455.49 L716.09,1456.55 M710.61,1460.79 L716.09,1461.85 M710.61,1466.09 L716.09,1467.15 M710.61,1471.39 L716.09,1472.45 M710.61,1476.69 L716.09,1477.75 M710.61,1481.99 L716.09,1483.05 M710.61,1487.29 L716.09,1488.35 M710.61,1492.59 L716.09,1493.65 M710.61,1497.89 L716.09,1498.95 M710.61,1503.19 L716.09,1504.25 M710.61,1508.49 L716.09,1509.55 M710.61,1513.79 L716.09,1514.85 M710.61,1519.09 L716.09,1520.15 M710.61,1524.39 L716.09,1525.45 M710.61,1529.69 L716.09,1530.75 M710.61,1534.99 L716.09,1536.05 M710.61,1540.29 L716.09,1541.35" stroke="rgba(255,255,255,0.8)" stroke-width="1.6" stroke-linecap="round" fill="none"/>
<ellipse cx="712.6" cy="1432.1" rx="8.71" ry="2.4" fill="#b4b4b4" stroke="#606060" stroke-width="0.8"/>
<path d="M689,1554.9 C689,1545.38 701.1,1543 714.2,1543 C727.3,1543 739.4,1545.38 739.4,1554.9 C739.4,1563.94 728.31,1566.8 714.2,1566.8 C700.09,1566.8 689,1563.94 689,1554.9 Z" fill="url(#hdD)" stroke="#555" stroke-width="0.9"/>
<path d="M689,1554.9 C689,1545.38 701.1,1543 714.2,1543 C727.3,1543 739.4,1545.38 739.4,1554.9 C739.4,1563.94 728.31,1566.8 714.2,1566.8 C700.09,1566.8 689,1563.94 689,1554.9 Z" fill="url(#hdDx)"/>
<path d="M695.05,1557.76 Q714.2,1562.99 733.35,1557.76" stroke="#262626" stroke-width="2.86" fill="none" stroke-linecap="round"/>
<path d="M703.11,1561.09 Q714.2,1563.47 724.28,1561.09" stroke="#f0f0f0" stroke-width="2.14" fill="none" stroke-linecap="round"/>
<ellipse cx="712.6" cy="1548.24" rx="12.55" ry="3.57" fill="#b8b8b8" stroke="#5a5a5a" stroke-width="0.8"/>
<path d="M741.4,1436.8 H762 M751.7,1436.8 V1550.6 M741.4,1550.6 H762" stroke="#363636" stroke-width="2" fill="none"/>
<path d="M838.94,1453.4 Q848.6,1449.1 858.26,1453.4 L859.56,1454.9 L859.56,1457.55 L861.65,1460.2 L859.56,1462.85 L861.65,1465.5 L859.56,1468.15 L861.65,1470.8 L859.56,1473.45 L861.65,1476.1 L859.56,1478.75 L861.65,1481.4 L859.56,1484.05 L861.65,1486.7 L859.56,1489.35 L861.65,1492 L859.56,1494.65 L861.65,1497.3 L859.56,1499.95 L861.65,1502.6 L859.56,1505.25 L861.65,1507.9 L859.56,1510.55 L861.65,1513.2 L859.56,1515.85 L861.65,1518.5 L859.56,1521.15 L861.65,1523.8 L859.56,1526.45 L861.65,1529.1 L859.56,1531.75 L861.65,1534.4 L859.56,1537.05 L861.65,1539.7 L859.56,1542.35 L861.65,1545 L859.56,1547.65 L861.65,1550.3 L859.56,1546 L837.64,1546 L835.55,1547.65 L837.64,1545 L835.55,1542.35 L837.64,1539.7 L835.55,1537.05 L837.64,1534.4 L835.55,1531.75 L837.64,1529.1 L835.55,1526.45 L837.64,1523.8 L835.55,1521.15 L837.64,1518.5 L835.55,1515.85 L837.64,1513.2 L835.55,1510.55 L837.64,1507.9 L835.55,1505.25 L837.64,1502.6 L835.55,1499.95 L837.64,1497.3 L835.55,1494.65 L837.64,1492 L835.55,1489.35 L837.64,1486.7 L835.55,1484.05 L837.64,1481.4 L835.55,1478.75 L837.64,1476.1 L835.55,1473.45 L837.64,1470.8 L835.55,1468.15 L837.64,1465.5 L835.55,1462.85 L837.64,1460.2 L835.55,1457.55 L837.64,1454.9 L837.64,1454.9 Z" fill="url(#shD)" stroke="#4a4a4a" stroke-width="0.7" stroke-linejoin="round"/>
<path d="M836.55,1457.55 L860.65,1460.2 M836.55,1462.85 L860.65,1465.5 M836.55,1468.15 L860.65,1470.8 M836.55,1473.45 L860.65,1476.1 M836.55,1478.75 L860.65,1481.4 M836.55,1484.05 L860.65,1486.7 M836.55,1489.35 L860.65,1492 M836.55,1494.65 L860.65,1497.3 M836.55,1499.95 L860.65,1502.6 M836.55,1505.25 L860.65,1507.9 M836.55,1510.55 L860.65,1513.2 M836.55,1515.85 L860.65,1518.5 M836.55,1521.15 L860.65,1523.8 M836.55,1526.45 L860.65,1529.1 M836.55,1531.75 L860.65,1534.4 M836.55,1537.05 L860.65,1539.7 M836.55,1542.35 L860.65,1545" stroke="rgba(25,25,25,0.55)" stroke-width="1.7" fill="none"/>
<path d="M846.51,1455.7 L852.25,1456.76 M846.51,1461 L852.25,1462.06 M846.51,1466.3 L852.25,1467.36 M846.51,1471.6 L852.25,1472.65 M846.51,1476.89 L852.25,1477.95 M846.51,1482.19 L852.25,1483.25 M846.51,1487.49 L852.25,1488.55 M846.51,1492.79 L852.25,1493.85 M846.51,1498.09 L852.25,1499.15 M846.51,1503.39 L852.25,1504.45 M846.51,1508.69 L852.25,1509.75 M846.51,1513.99 L852.25,1515.05 M846.51,1519.29 L852.25,1520.35 M846.51,1524.59 L852.25,1525.65 M846.51,1529.89 L852.25,1530.95 M846.51,1535.19 L852.25,1536.25 M846.51,1540.49 L852.25,1541.55" stroke="rgba(255,255,255,0.8)" stroke-width="1.6" stroke-linecap="round" fill="none"/>
<ellipse cx="848.6" cy="1453.5" rx="9.16" ry="2.4" fill="#b4b4b4" stroke="#606060" stroke-width="0.8"/>
<path d="M823.7,1554.9 C823.7,1545.38 835.68,1543 848.65,1543 C861.62,1543 873.6,1545.38 873.6,1554.9 C873.6,1563.94 862.62,1566.8 848.65,1566.8 C834.68,1566.8 823.7,1563.94 823.7,1554.9 Z" fill="url(#hdD)" stroke="#555" stroke-width="0.9"/>
<path d="M823.7,1554.9 C823.7,1545.38 835.68,1543 848.65,1543 C861.62,1543 873.6,1545.38 873.6,1554.9 C873.6,1563.94 862.62,1566.8 848.65,1566.8 C834.68,1566.8 823.7,1563.94 823.7,1554.9 Z" fill="url(#hdDx)"/>
<path d="M829.69,1557.76 Q848.65,1562.99 867.61,1557.76" stroke="#262626" stroke-width="2.86" fill="none" stroke-linecap="round"/>
<path d="M837.67,1561.09 Q848.65,1563.47 858.63,1561.09" stroke="#f0f0f0" stroke-width="2.14" fill="none" stroke-linecap="round"/>
<ellipse cx="848.6" cy="1548.24" rx="13.15" ry="3.57" fill="#b8b8b8" stroke="#5a5a5a" stroke-width="0.8"/>
<path d="M872.8,1453.5 H893.4 M883.1,1453.5 V1545.4 M872.8,1545.4 H893.4" stroke="#363636" stroke-width="2" fill="none"/>
<path d="M970.59,1476.6 Q979.8,1472.3 989.01,1476.6 L990.26,1478.1 L990.26,1480.75 L992.25,1483.4 L990.26,1486.05 L992.25,1488.7 L990.26,1491.35 L992.25,1494 L990.26,1496.65 L992.25,1499.3 L990.26,1501.95 L992.25,1504.6 L990.26,1507.25 L992.25,1509.9 L990.26,1512.55 L992.25,1515.2 L990.26,1517.85 L992.25,1520.5 L990.26,1523.15 L992.25,1525.8 L990.26,1528.45 L992.25,1531.1 L990.26,1533.75 L992.25,1536.4 L990.26,1539.05 L992.25,1541.7 L990.26,1544.35 L992.25,1547 L990.26,1549.65 L992.25,1552.3 L990.26,1547.2 L969.34,1547.2 L967.35,1549.65 L969.34,1547 L967.35,1544.35 L969.34,1541.7 L967.35,1539.05 L969.34,1536.4 L967.35,1533.75 L969.34,1531.1 L967.35,1528.45 L969.34,1525.8 L967.35,1523.15 L969.34,1520.5 L967.35,1517.85 L969.34,1515.2 L967.35,1512.55 L969.34,1509.9 L967.35,1507.25 L969.34,1504.6 L967.35,1501.95 L969.34,1499.3 L967.35,1496.65 L969.34,1494 L967.35,1491.35 L969.34,1488.7 L967.35,1486.05 L969.34,1483.4 L967.35,1480.75 L969.34,1478.1 L969.34,1478.1 Z" fill="url(#shD)" stroke="#4a4a4a" stroke-width="0.7" stroke-linejoin="round"/>
<path d="M968.35,1480.75 L991.25,1483.4 M968.35,1486.05 L991.25,1488.7 M968.35,1491.35 L991.25,1494 M968.35,1496.65 L991.25,1499.3 M968.35,1501.95 L991.25,1504.6 M968.35,1507.25 L991.25,1509.9 M968.35,1512.55 L991.25,1515.2 M968.35,1517.85 L991.25,1520.5 M968.35,1523.15 L991.25,1525.8 M968.35,1528.45 L991.25,1531.1 M968.35,1533.75 L991.25,1536.4 M968.35,1539.05 L991.25,1541.7 M968.35,1544.35 L991.25,1547" stroke="rgba(25,25,25,0.55)" stroke-width="1.7" fill="none"/>
<path d="M977.81,1478.89 L983.29,1479.95 M977.81,1484.19 L983.29,1485.25 M977.81,1489.49 L983.29,1490.55 M977.81,1494.79 L983.29,1495.85 M977.81,1500.09 L983.29,1501.15 M977.81,1505.39 L983.29,1506.45 M977.81,1510.69 L983.29,1511.75 M977.81,1515.99 L983.29,1517.05 M977.81,1521.29 L983.29,1522.35 M977.81,1526.59 L983.29,1527.65 M977.81,1531.89 L983.29,1532.95 M977.81,1537.19 L983.29,1538.25 M977.81,1542.49 L983.29,1543.55" stroke="rgba(255,255,255,0.8)" stroke-width="1.6" stroke-linecap="round" fill="none"/>
<ellipse cx="979.8" cy="1476.7" rx="8.71" ry="2.4" fill="#b4b4b4" stroke="#606060" stroke-width="0.8"/>
<path d="M953.6,1554.9 C953.6,1546.34 965.94,1544.2 979.3,1544.2 C992.66,1544.2 1005,1546.34 1005,1554.9 C1005,1563.03 993.69,1565.6 979.3,1565.6 C964.91,1565.6 953.6,1563.03 953.6,1554.9 Z" fill="url(#hdD)" stroke="#555" stroke-width="0.9"/>
<path d="M953.6,1554.9 C953.6,1546.34 965.94,1544.2 979.3,1544.2 C992.66,1544.2 1005,1546.34 1005,1554.9 C1005,1563.03 993.69,1565.6 979.3,1565.6 C964.91,1565.6 953.6,1563.03 953.6,1554.9 Z" fill="url(#hdDx)"/>
<path d="M959.77,1557.47 Q979.3,1562.18 998.83,1557.47" stroke="#262626" stroke-width="2.57" fill="none" stroke-linecap="round"/>
<path d="M967.99,1560.46 Q979.3,1562.6 989.58,1560.46" stroke="#f0f0f0" stroke-width="1.93" fill="none" stroke-linecap="round"/>
<ellipse cx="979.8" cy="1548.91" rx="12.55" ry="3.21" fill="#b8b8b8" stroke="#5a5a5a" stroke-width="0.8"/>
<path d="M1002.2,1468.2 H1022.8 M1012.5,1468.2 V1545.4 M1002.2,1545.4 H1022.8" stroke="#363636" stroke-width="2" fill="none"/>
<path d="M1101.23,1500.4 Q1110,1496.1 1118.77,1500.4 L1119.95,1501.9 L1119.95,1504.55 L1121.85,1507.2 L1119.95,1509.85 L1121.85,1512.5 L1119.95,1515.15 L1121.85,1517.8 L1119.95,1520.45 L1121.85,1523.1 L1119.95,1525.75 L1121.85,1528.4 L1119.95,1531.05 L1121.85,1533.7 L1119.95,1536.35 L1121.85,1539 L1119.95,1541.65 L1121.85,1544.3 L1119.95,1546.95 L1121.85,1549.6 L1119.95,1549 L1100.05,1549 L1098.15,1546.95 L1100.05,1544.3 L1098.15,1541.65 L1100.05,1539 L1098.15,1536.35 L1100.05,1533.7 L1098.15,1531.05 L1100.05,1528.4 L1098.15,1525.75 L1100.05,1523.1 L1098.15,1520.45 L1100.05,1517.8 L1098.15,1515.15 L1100.05,1512.5 L1098.15,1509.85 L1100.05,1507.2 L1098.15,1504.55 L1100.05,1501.9 L1100.05,1501.9 Z" fill="url(#shD)" stroke="#4a4a4a" stroke-width="0.7" stroke-linejoin="round"/>
<path d="M1099.15,1504.55 L1120.85,1507.2 M1099.15,1509.85 L1120.85,1512.5 M1099.15,1515.15 L1120.85,1517.8 M1099.15,1520.45 L1120.85,1523.1 M1099.15,1525.75 L1120.85,1528.4 M1099.15,1531.05 L1120.85,1533.7 M1099.15,1536.35 L1120.85,1539 M1099.15,1541.65 L1120.85,1544.3 M1099.15,1546.95 L1120.85,1549.6" stroke="rgba(25,25,25,0.55)" stroke-width="1.7" fill="none"/>
<path d="M1108.1,1502.7 L1113.32,1503.76 M1108.1,1508 L1113.32,1509.06 M1108.1,1513.3 L1113.32,1514.36 M1108.1,1518.6 L1113.32,1519.65 M1108.1,1523.89 L1113.32,1524.95 M1108.1,1529.19 L1113.32,1530.25 M1108.1,1534.49 L1113.32,1535.55 M1108.1,1539.79 L1113.32,1540.85 M1108.1,1545.09 L1113.32,1546.15" stroke="rgba(255,255,255,0.8)" stroke-width="1.6" stroke-linecap="round" fill="none"/>
<ellipse cx="1110" cy="1500.5" rx="8.27" ry="2.4" fill="#b4b4b4" stroke="#606060" stroke-width="0.8"/>
<path d="M1082.6,1556 C1082.6,1548 1094.96,1546 1108.35,1546 C1121.74,1546 1134.1,1548 1134.1,1556 C1134.1,1563.6 1122.77,1566 1108.35,1566 C1093.93,1566 1082.6,1563.6 1082.6,1556 Z" fill="url(#hdD)" stroke="#555" stroke-width="0.9"/>
<path d="M1082.6,1556 C1082.6,1548 1094.96,1546 1108.35,1546 C1121.74,1546 1134.1,1548 1134.1,1556 C1134.1,1563.6 1122.77,1566 1108.35,1566 C1093.93,1566 1082.6,1563.6 1082.6,1556 Z" fill="url(#hdDx)"/>
<path d="M1088.78,1558.4 Q1108.35,1562.8 1127.92,1558.4" stroke="#262626" stroke-width="2.4" fill="none" stroke-linecap="round"/>
<path d="M1097.02,1561.2 Q1108.35,1563.2 1118.65,1561.2" stroke="#f0f0f0" stroke-width="1.8" fill="none" stroke-linecap="round"/>
<ellipse cx="1110" cy="1550.4" rx="11.94" ry="3" fill="#b8b8b8" stroke="#5a5a5a" stroke-width="0.8"/>
<path d="M1137.6,1506.9 H1158.2 M1147.9,1506.9 V1550 M1137.6,1550 H1158.2" stroke="#363636" stroke-width="2" fill="none"/>
<path d="M1212.34,1536.41 Q1210.8,1533.6 1212.34,1530.79 L1224.56,1508.51 Q1226.1,1505.7 1229.3,1505.7 L1253.5,1505.7 Q1256.7,1505.7 1258.24,1508.51 L1270.46,1530.79 Q1272,1533.6 1270.46,1536.41 L1258.24,1558.69 Q1256.7,1561.5 1253.5,1561.5 L1229.3,1561.5 Q1226.1,1561.5 1224.56,1558.69 Z" fill="url(#nutG)" stroke="#7a7a7a" stroke-width="1.2"/>
<path d="M1226.1,1506.7 L1256.7,1506.7" stroke="#d0d0d0" stroke-width="1.5"/>
<circle cx="1241.4" cy="1533.6" r="15.61" fill="#b4b4b4" stroke="#858585" stroke-width="0.9"/>
<circle cx="1241.4" cy="1533.6" r="11.63" fill="#f2f2f2" stroke="#4e4e4e" stroke-width="2"/>
<path d="M1231.61,1537.27 Q1241.4,1548.29 1251.19,1537.27" stroke="#cfcfcf" stroke-width="2.2" fill="none"/>
<ellipse cx="1369.75" cy="1534.45" rx="28.85" ry="28.85" fill="url(#wasG)" stroke="#8c8c8c" stroke-width="1.4"/>
<ellipse cx="1369.75" cy="1534.45" rx="26.45" ry="26.45" fill="none" stroke="#e8e8e8" stroke-width="1.4"/>
<ellipse cx="1369.75" cy="1534.45" rx="14.73" ry="14.73" fill="#f4f4f4" stroke="#9a9a9a" stroke-width="1.6"/>
<rect x="402.2" y="1573.6" width="95" height="40" rx="20" fill="#000"/>
<rect x="537.5" y="1573.6" width="95" height="40" rx="20" fill="#000"/>
<rect x="668.5" y="1573.6" width="95" height="40" rx="20" fill="#000"/>
<rect x="801" y="1573.6" width="95" height="40" rx="20" fill="#000"/>
<rect x="933" y="1573.6" width="95" height="40" rx="20" fill="#000"/>
<rect x="1062.5" y="1573.6" width="95" height="40" rx="20" fill="#000"/>
<rect x="1197.2" y="1573.6" width="95" height="40" rx="20" fill="#000"/>
<rect x="1324.5" y="1573.6" width="95" height="40" rx="20" fill="#000"/>
<path d="M462.22,1652.7 Q473.6,1648.4 484.98,1652.7 L484.67,1654.2 L484.67,1657.7 L488.98,1661.2 L484.67,1664.7 L488.98,1668.2 L484.67,1671.7 L488.98,1675.2 L484.67,1678.7 L488.98,1682.2 L484.67,1685.7 L488.98,1689.2 L484.67,1692.7 L488.98,1696.2 L484.67,1699.7 L488.98,1703.2 L484.67,1706.7 L488.98,1710.2 L484.67,1713.7 L488.98,1717.2 L484.67,1720.7 L488.98,1724.2 L484.67,1727.7 L488.98,1731.2 L484.67,1734.7 L488.98,1738.2 L484.67,1741.7 L488.98,1745.2 L484.67,1748.7 L488.98,1752.2 L484.67,1755.7 L488.98,1759.2 L484.67,1762.7 L488.98,1766.2 L484.67,1769.7 L488.98,1773.2 L484.67,1776.7 L488.98,1780.2 L484.67,1783.7 L488.98,1787.2 L484.67,1790.7 L488.98,1794.2 L484.67,1797.7 L488.98,1801.2 L484.67,1804.7 L488.98,1808.2 L484.67,1811.7 L488.98,1815.2 L484.67,1818.7 L488.98,1822.2 L484.67,1825.7 L488.98,1829.2 L484.67,1832.7 L488.98,1836.2 L484.67,1831 L462.53,1831 L458.23,1832.7 L462.53,1829.2 L458.23,1825.7 L462.53,1822.2 L458.23,1818.7 L462.53,1815.2 L458.23,1811.7 L462.53,1808.2 L458.23,1804.7 L462.53,1801.2 L458.23,1797.7 L462.53,1794.2 L458.23,1790.7 L462.53,1787.2 L458.23,1783.7 L462.53,1780.2 L458.23,1776.7 L462.53,1773.2 L458.23,1769.7 L462.53,1766.2 L458.23,1762.7 L462.53,1759.2 L458.23,1755.7 L462.53,1752.2 L458.23,1748.7 L462.53,1745.2 L458.23,1741.7 L462.53,1738.2 L458.23,1734.7 L462.53,1731.2 L458.23,1727.7 L462.53,1724.2 L458.23,1720.7 L462.53,1717.2 L458.23,1713.7 L462.53,1710.2 L458.23,1706.7 L462.53,1703.2 L458.23,1699.7 L462.53,1696.2 L458.23,1692.7 L462.53,1689.2 L458.23,1685.7 L462.53,1682.2 L458.23,1678.7 L462.53,1675.2 L458.23,1671.7 L462.53,1668.2 L458.23,1664.7 L462.53,1661.2 L458.23,1657.7 L462.53,1654.2 L462.53,1654.2 Z" fill="url(#shL)" stroke="#7c7c7c" stroke-width="1.0" stroke-linejoin="round"/>
<path d="M459.23,1657.7 L487.98,1661.2 M459.23,1664.7 L487.98,1668.2 M459.23,1671.7 L487.98,1675.2 M459.23,1678.7 L487.98,1682.2 M459.23,1685.7 L487.98,1689.2 M459.23,1692.7 L487.98,1696.2 M459.23,1699.7 L487.98,1703.2 M459.23,1706.7 L487.98,1710.2 M459.23,1713.7 L487.98,1717.2 M459.23,1720.7 L487.98,1724.2 M459.23,1727.7 L487.98,1731.2 M459.23,1734.7 L487.98,1738.2 M459.23,1741.7 L487.98,1745.2 M459.23,1748.7 L487.98,1752.2 M459.23,1755.7 L487.98,1759.2 M459.23,1762.7 L487.98,1766.2 M459.23,1769.7 L487.98,1773.2 M459.23,1776.7 L487.98,1780.2 M459.23,1783.7 L487.98,1787.2 M459.23,1790.7 L487.98,1794.2 M459.23,1797.7 L487.98,1801.2 M459.23,1804.7 L487.98,1808.2 M459.23,1811.7 L487.98,1815.2 M459.23,1818.7 L487.98,1822.2 M459.23,1825.7 L487.98,1829.2" stroke="rgba(70,70,70,0.62)" stroke-width="1.35" fill="none"/>
<path d="M471.14,1655.25 L477.91,1656.65 M471.14,1662.25 L477.91,1663.65 M471.14,1669.25 L477.91,1670.65 M471.14,1676.25 L477.91,1677.65 M471.14,1683.25 L477.91,1684.65 M471.14,1690.25 L477.91,1691.65 M471.14,1697.25 L477.91,1698.65 M471.14,1704.25 L477.91,1705.65 M471.14,1711.25 L477.91,1712.65 M471.14,1718.25 L477.91,1719.65 M471.14,1725.25 L477.91,1726.65 M471.14,1732.25 L477.91,1733.65 M471.14,1739.25 L477.91,1740.65 M471.14,1746.25 L477.91,1747.65 M471.14,1753.25 L477.91,1754.65 M471.14,1760.25 L477.91,1761.65 M471.14,1767.25 L477.91,1768.65 M471.14,1774.25 L477.91,1775.65 M471.14,1781.25 L477.91,1782.65 M471.14,1788.25 L477.91,1789.65 M471.14,1795.25 L477.91,1796.65 M471.14,1802.25 L477.91,1803.65 M471.14,1809.25 L477.91,1810.65 M471.14,1816.25 L477.91,1817.65 M471.14,1823.25 L477.91,1824.65" stroke="rgba(255,255,255,0.7)" stroke-width="1.4" stroke-linecap="round" fill="none"/>
<ellipse cx="473.6" cy="1652.8" rx="10.88" ry="2.4" fill="#dcdcdc" stroke="#9a9a9a" stroke-width="0.8"/>
<path d="M444.4,1840.8 C444.4,1831.07 457.51,1828 474.2,1828 C490.89,1828 504,1831.07 504,1840.8 C504,1851.04 492.08,1853.6 474.2,1853.6 C456.32,1853.6 444.4,1851.04 444.4,1840.8 Z" fill="url(#hdL)" stroke="#a2a2a2" stroke-width="0.9"/>
<path d="M444.4,1840.8 C444.4,1831.07 457.51,1828 474.2,1828 C490.89,1828 504,1831.07 504,1840.8 C504,1851.04 492.08,1853.6 474.2,1853.6 C456.32,1853.6 444.4,1851.04 444.4,1840.8 Z" fill="url(#hdLx)"/>
<path d="M449.17,1835.68 Q474.2,1840.8 499.23,1835.68" stroke="#a6a6a6" stroke-width="1.1" fill="none"/>
<ellipse cx="473.6" cy="1833.12" rx="12.84" ry="3.33" fill="#e2e2e2"/>
<path d="M496.4,1650.2 H517 M506.7,1650.2 V1833.8 M496.4,1833.8 H517" stroke="#363636" stroke-width="2" fill="none"/>
<path d="M636.6,1725.4 Q648,1721.1 659.4,1725.4 L659.09,1726.9 L659.09,1730.4 L663.4,1733.9 L659.09,1737.4 L663.4,1740.9 L659.09,1744.4 L663.4,1747.9 L659.09,1751.4 L663.4,1754.9 L659.09,1758.4 L663.4,1761.9 L659.09,1765.4 L663.4,1768.9 L659.09,1772.4 L663.4,1775.9 L659.09,1779.4 L663.4,1782.9 L659.09,1786.4 L663.4,1789.9 L659.09,1793.4 L663.4,1796.9 L659.09,1800.4 L663.4,1803.9 L659.09,1807.4 L663.4,1810.9 L659.09,1814.4 L663.4,1817.9 L659.09,1821.4 L663.4,1824.9 L659.09,1828.4 L663.4,1831.9 L659.09,1835.4 L663.4,1838.9 L659.09,1832 L636.91,1832 L632.6,1835.4 L636.91,1831.9 L632.6,1828.4 L636.91,1824.9 L632.6,1821.4 L636.91,1817.9 L632.6,1814.4 L636.91,1810.9 L632.6,1807.4 L636.91,1803.9 L632.6,1800.4 L636.91,1796.9 L632.6,1793.4 L636.91,1789.9 L632.6,1786.4 L636.91,1782.9 L632.6,1779.4 L636.91,1775.9 L632.6,1772.4 L636.91,1768.9 L632.6,1765.4 L636.91,1761.9 L632.6,1758.4 L636.91,1754.9 L632.6,1751.4 L636.91,1747.9 L632.6,1744.4 L636.91,1740.9 L632.6,1737.4 L636.91,1733.9 L632.6,1730.4 L636.91,1726.9 L636.91,1726.9 Z" fill="url(#shL)" stroke="#7c7c7c" stroke-width="1.0" stroke-linejoin="round"/>
<path d="M633.6,1730.4 L662.4,1733.9 M633.6,1737.4 L662.4,1740.9 M633.6,1744.4 L662.4,1747.9 M633.6,1751.4 L662.4,1754.9 M633.6,1758.4 L662.4,1761.9 M633.6,1765.4 L662.4,1768.9 M633.6,1772.4 L662.4,1775.9 M633.6,1779.4 L662.4,1782.9 M633.6,1786.4 L662.4,1789.9 M633.6,1793.4 L662.4,1796.9 M633.6,1800.4 L662.4,1803.9 M633.6,1807.4 L662.4,1810.9 M633.6,1814.4 L662.4,1817.9 M633.6,1821.4 L662.4,1824.9 M633.6,1828.4 L662.4,1831.9" stroke="rgba(70,70,70,0.62)" stroke-width="1.35" fill="none"/>
<path d="M645.54,1727.95 L652.31,1729.35 M645.54,1734.95 L652.31,1736.35 M645.54,1741.95 L652.31,1743.35 M645.54,1748.95 L652.31,1750.35 M645.54,1755.95 L652.31,1757.35 M645.54,1762.95 L652.31,1764.35 M645.54,1769.95 L652.31,1771.35 M645.54,1776.95 L652.31,1778.35 M645.54,1783.95 L652.31,1785.35 M645.54,1790.95 L652.31,1792.35 M645.54,1797.95 L652.31,1799.35 M645.54,1804.95 L652.31,1806.35 M645.54,1811.95 L652.31,1813.35 M645.54,1818.95 L652.31,1820.35 M645.54,1825.95 L652.31,1827.35" stroke="rgba(255,255,255,0.7)" stroke-width="1.4" stroke-linecap="round" fill="none"/>
<ellipse cx="648" cy="1725.5" rx="10.9" ry="2.4" fill="#dcdcdc" stroke="#9a9a9a" stroke-width="0.8"/>
<path d="M618.7,1841.8 C618.7,1832.07 632.25,1829 649.5,1829 C666.75,1829 680.3,1832.07 680.3,1841.8 C680.3,1852.04 667.98,1854.6 649.5,1854.6 C631.02,1854.6 618.7,1852.04 618.7,1841.8 Z" fill="url(#hdL)" stroke="#a2a2a2" stroke-width="0.9"/>
<path d="M618.7,1841.8 C618.7,1832.07 632.25,1829 649.5,1829 C666.75,1829 680.3,1832.07 680.3,1841.8 C680.3,1852.04 667.98,1854.6 649.5,1854.6 C631.02,1854.6 618.7,1852.04 618.7,1841.8 Z" fill="url(#hdLx)"/>
<path d="M623.63,1836.68 Q649.5,1841.8 675.37,1836.68" stroke="#a6a6a6" stroke-width="1.1" fill="none"/>
<ellipse cx="648" cy="1834.12" rx="12.86" ry="3.33" fill="#e2e2e2"/>
<path d="M674.3,1722.9 H694.9 M684.6,1722.9 V1833.8 M674.3,1833.8 H694.9" stroke="#363636" stroke-width="2" fill="none"/>
<path d="M815.9,1748.1 Q827,1743.8 838.1,1748.1 L837.8,1749.6 L837.8,1753.1 L842,1756.6 L837.8,1760.1 L842,1763.6 L837.8,1767.1 L842,1770.6 L837.8,1774.1 L842,1777.6 L837.8,1781.1 L842,1784.6 L837.8,1788.1 L842,1791.6 L837.8,1795.1 L842,1798.6 L837.8,1802.1 L842,1805.6 L837.8,1809.1 L842,1812.6 L837.8,1816.1 L842,1819.6 L837.8,1823.1 L842,1826.6 L837.8,1830.1 L842,1833.6 L837.8,1837.1 L842,1840.6 L837.8,1834 L816.2,1834 L812,1837.1 L816.2,1833.6 L812,1830.1 L816.2,1826.6 L812,1823.1 L816.2,1819.6 L812,1816.1 L816.2,1812.6 L812,1809.1 L816.2,1805.6 L812,1802.1 L816.2,1798.6 L812,1795.1 L816.2,1791.6 L812,1788.1 L816.2,1784.6 L812,1781.1 L816.2,1777.6 L812,1774.1 L816.2,1770.6 L812,1767.1 L816.2,1763.6 L812,1760.1 L816.2,1756.6 L812,1753.1 L816.2,1749.6 L816.2,1749.6 Z" fill="url(#shL)" stroke="#7c7c7c" stroke-width="1.0" stroke-linejoin="round"/>
<path d="M813,1753.1 L841,1756.6 M813,1760.1 L841,1763.6 M813,1767.1 L841,1770.6 M813,1774.1 L841,1777.6 M813,1781.1 L841,1784.6 M813,1788.1 L841,1791.6 M813,1795.1 L841,1798.6 M813,1802.1 L841,1805.6 M813,1809.1 L841,1812.6 M813,1816.1 L841,1819.6 M813,1823.1 L841,1826.6 M813,1830.1 L841,1833.6" stroke="rgba(70,70,70,0.62)" stroke-width="1.35" fill="none"/>
<path d="M824.6,1750.65 L831.2,1752.05 M824.6,1757.65 L831.2,1759.05 M824.6,1764.65 L831.2,1766.05 M824.6,1771.65 L831.2,1773.05 M824.6,1778.65 L831.2,1780.05 M824.6,1785.65 L831.2,1787.05 M824.6,1792.65 L831.2,1794.05 M824.6,1799.65 L831.2,1801.05 M824.6,1806.65 L831.2,1808.05 M824.6,1813.65 L831.2,1815.05 M824.6,1820.65 L831.2,1822.05 M824.6,1827.65 L831.2,1829.05" stroke="rgba(255,255,255,0.7)" stroke-width="1.4" stroke-linecap="round" fill="none"/>
<ellipse cx="827" cy="1748.2" rx="10.6" ry="2.4" fill="#dcdcdc" stroke="#9a9a9a" stroke-width="0.8"/>
<path d="M796,1843 C796,1833.88 809.42,1831 826.5,1831 C843.58,1831 857,1833.88 857,1843 C857,1852.6 844.8,1855 826.5,1855 C808.2,1855 796,1852.6 796,1843 Z" fill="url(#hdL)" stroke="#a2a2a2" stroke-width="0.9"/>
<path d="M796,1843 C796,1833.88 809.42,1831 826.5,1831 C843.58,1831 857,1833.88 857,1843 C857,1852.6 844.8,1855 826.5,1855 C808.2,1855 796,1852.6 796,1843 Z" fill="url(#hdLx)"/>
<path d="M800.88,1838.2 Q826.5,1843 852.12,1838.2" stroke="#a6a6a6" stroke-width="1.1" fill="none"/>
<ellipse cx="827" cy="1835.8" rx="12.53" ry="3.12" fill="#e2e2e2"/>
<path d="M849.7,1745 H870.3 M860,1745 V1834 M849.7,1834 H870.3" stroke="#363636" stroke-width="2" fill="none"/>
<path d="M997.38,1767.5 Q1009,1763.2 1020.62,1767.5 L1020.3,1769 L1020.3,1772.5 L1024.7,1776 L1020.3,1779.5 L1024.7,1783 L1020.3,1786.5 L1024.7,1790 L1020.3,1793.5 L1024.7,1797 L1020.3,1800.5 L1024.7,1804 L1020.3,1807.5 L1024.7,1811 L1020.3,1814.5 L1024.7,1818 L1020.3,1821.5 L1024.7,1825 L1020.3,1828.5 L1024.7,1832 L1020.3,1835.5 L1024.7,1839 L1020.3,1832.6 L997.7,1832.6 L993.3,1835.5 L997.7,1832 L993.3,1828.5 L997.7,1825 L993.3,1821.5 L997.7,1818 L993.3,1814.5 L997.7,1811 L993.3,1807.5 L997.7,1804 L993.3,1800.5 L997.7,1797 L993.3,1793.5 L997.7,1790 L993.3,1786.5 L997.7,1783 L993.3,1779.5 L997.7,1776 L993.3,1772.5 L997.7,1769 L997.7,1769 Z" fill="url(#shL)" stroke="#7c7c7c" stroke-width="1.0" stroke-linejoin="round"/>
<path d="M994.3,1772.5 L1023.7,1776 M994.3,1779.5 L1023.7,1783 M994.3,1786.5 L1023.7,1790 M994.3,1793.5 L1023.7,1797 M994.3,1800.5 L1023.7,1804 M994.3,1807.5 L1023.7,1811 M994.3,1814.5 L1023.7,1818 M994.3,1821.5 L1023.7,1825 M994.3,1828.5 L1023.7,1832" stroke="rgba(70,70,70,0.62)" stroke-width="1.35" fill="none"/>
<path d="M1006.49,1770.05 L1013.4,1771.45 M1006.49,1777.05 L1013.4,1778.45 M1006.49,1784.05 L1013.4,1785.45 M1006.49,1791.05 L1013.4,1792.45 M1006.49,1798.05 L1013.4,1799.45 M1006.49,1805.05 L1013.4,1806.45 M1006.49,1812.05 L1013.4,1813.45 M1006.49,1819.05 L1013.4,1820.45 M1006.49,1826.05 L1013.4,1827.45" stroke="rgba(255,255,255,0.7)" stroke-width="1.4" stroke-linecap="round" fill="none"/>
<ellipse cx="1009" cy="1767.6" rx="11.12" ry="2.4" fill="#dcdcdc" stroke="#9a9a9a" stroke-width="0.8"/>
<path d="M978,1841.8 C978,1832.53 991.29,1829.6 1008.2,1829.6 C1025.11,1829.6 1038.4,1832.53 1038.4,1841.8 C1038.4,1851.56 1026.32,1854 1008.2,1854 C990.08,1854 978,1851.56 978,1841.8 Z" fill="url(#hdL)" stroke="#a2a2a2" stroke-width="0.9"/>
<path d="M978,1841.8 C978,1832.53 991.29,1829.6 1008.2,1829.6 C1025.11,1829.6 1038.4,1832.53 1038.4,1841.8 C1038.4,1851.56 1026.32,1854 1008.2,1854 C990.08,1854 978,1851.56 978,1841.8 Z" fill="url(#hdLx)"/>
<path d="M982.83,1836.92 Q1008.2,1841.8 1033.57,1836.92" stroke="#a6a6a6" stroke-width="1.1" fill="none"/>
<ellipse cx="1009" cy="1834.48" rx="13.11" ry="3.17" fill="#e2e2e2"/>
<path d="M1028.7,1764.4 H1049.3 M1039,1764.4 V1834 M1028.7,1834 H1049.3" stroke="#363636" stroke-width="2" fill="none"/>
<path d="M1155.93,1826.41 Q1154.4,1823.6 1155.93,1820.79 L1168.17,1798.41 Q1169.7,1795.6 1172.9,1795.6 L1197.1,1795.6 Q1200.3,1795.6 1201.83,1798.41 L1214.07,1820.79 Q1215.6,1823.6 1214.07,1826.41 L1201.83,1848.79 Q1200.3,1851.6 1197.1,1851.6 L1172.9,1851.6 Q1169.7,1851.6 1168.17,1848.79 Z" fill="url(#nutG)" stroke="#7a7a7a" stroke-width="1.2"/>
<path d="M1169.7,1796.6 L1200.3,1796.6" stroke="#d0d0d0" stroke-width="1.5"/>
<circle cx="1185" cy="1823.6" r="15.61" fill="#b4b4b4" stroke="#858585" stroke-width="0.9"/>
<circle cx="1185" cy="1823.6" r="11.63" fill="#f2f2f2" stroke="#4e4e4e" stroke-width="2"/>
<path d="M1175.21,1827.27 Q1185,1838.29 1194.79,1827.27" stroke="#cfcfcf" stroke-width="2.2" fill="none"/>
<ellipse cx="1363" cy="1822.5" rx="28.8" ry="27.9" fill="url(#wasG)" stroke="#8c8c8c" stroke-width="1.4"/>
<ellipse cx="1363" cy="1822.5" rx="26.4" ry="25.5" fill="none" stroke="#e8e8e8" stroke-width="1.4"/>
<ellipse cx="1363" cy="1822.5" rx="14.7" ry="14.25" fill="#f4f4f4" stroke="#9a9a9a" stroke-width="1.6"/>
<rect x="425" y="1862.5" width="95" height="40" rx="20" fill="#000"/>
<rect x="602" y="1862.5" width="95" height="40" rx="20" fill="#000"/>
<rect x="778" y="1862.5" width="95" height="40" rx="20" fill="#000"/>
<rect x="958.5" y="1862.5" width="95" height="40" rx="20" fill="#000"/>
<rect x="1136.5" y="1862.5" width="95" height="40" rx="20" fill="#000"/>
<rect x="1314.5" y="1862.5" width="95" height="40" rx="20" fill="#000"/>
<text x="35.48" y="198.1" font-size="92" font-weight="bold" fill="#f4511e" textLength="1529.71" lengthAdjust="spacingAndGlyphs" stroke="#f4511e" stroke-width="3" stroke-linejoin="round">A Set to Meet Your Different Needs</text>
<text x="373.78" y="279.6" font-size="57" font-weight="normal" fill="#000" textLength="850.57" lengthAdjust="spacingAndGlyphs" stroke="#000" stroke-width="0.1" stroke-linejoin="round">25 Size Options, Covering 5 Models</text>
<text x="683.71" y="404.25" font-size="50" font-weight="bold" fill="#fff" textLength="109.87" lengthAdjust="spacingAndGlyphs" stroke="#fff" stroke-width="1.5" stroke-linejoin="round">1100</text>
<text x="793.35" y="404.5" font-size="38.5" font-weight="normal" fill="#fff" textLength="121.47" lengthAdjust="spacingAndGlyphs" stroke="#fff" stroke-width="1" stroke-linejoin="round">Pieces</text>
<text x="150.13" y="640.5" font-size="61" font-weight="bold" fill="#f4511e" textLength="203.99" lengthAdjust="spacingAndGlyphs" stroke="#f4511e" stroke-width="2" stroke-linejoin="round">#10-24</text>
<text x="150.05" y="925.7" font-size="61" font-weight="bold" fill="#f4511e" textLength="178.65" lengthAdjust="spacingAndGlyphs" stroke="#f4511e" stroke-width="2" stroke-linejoin="round">#8-32</text>
<text x="150.06" y="1212" font-size="61" font-weight="bold" fill="#f4511e" textLength="177.83" lengthAdjust="spacingAndGlyphs" stroke="#f4511e" stroke-width="2" stroke-linejoin="round">#2-56</text>
<text x="150.06" y="1501.3" font-size="61" font-weight="bold" fill="#f4511e" textLength="178.14" lengthAdjust="spacingAndGlyphs" stroke="#f4511e" stroke-width="2" stroke-linejoin="round">#6-32</text>
<text x="150.02" y="1790.5" font-size="61" font-weight="bold" fill="#f4511e" textLength="184.76" lengthAdjust="spacingAndGlyphs" stroke="#f4511e" stroke-width="2" stroke-linejoin="round">#4-40</text>
<text x="425.05" y="739.9" font-size="29" font-weight="normal" fill="#fff" textLength="71.51" lengthAdjust="spacingAndGlyphs" stroke="#fff" stroke-width="0.8" stroke-linejoin="round">10pcs</text>
<text x="575.25" y="739.9" font-size="29" font-weight="normal" fill="#fff" textLength="71.51" lengthAdjust="spacingAndGlyphs" stroke="#fff" stroke-width="0.8" stroke-linejoin="round">10pcs</text>
<text x="730.35" y="739.9" font-size="29" font-weight="normal" fill="#fff" textLength="71.51" lengthAdjust="spacingAndGlyphs" stroke="#fff" stroke-width="0.8" stroke-linejoin="round">10pcs</text>
<text x="883.35" y="739.9" font-size="29" font-weight="normal" fill="#fff" textLength="71.51" lengthAdjust="spacingAndGlyphs" stroke="#fff" stroke-width="0.8" stroke-linejoin="round">10pcs</text>
<text x="1033.35" y="739.9" font-size="29" font-weight="normal" fill="#fff" textLength="71.51" lengthAdjust="spacingAndGlyphs" stroke="#fff" stroke-width="0.8" stroke-linejoin="round">10pcs</text>
<text x="1179.01" y="739.9" font-size="29" font-weight="normal" fill="#fff" textLength="76.28" lengthAdjust="spacingAndGlyphs" stroke="#fff" stroke-width="0.8" stroke-linejoin="round">50pcs</text>
<text x="1333.91" y="739.9" font-size="29" font-weight="normal" fill="#fff" textLength="76.28" lengthAdjust="spacingAndGlyphs" stroke="#fff" stroke-width="0.8" stroke-linejoin="round">50pcs</text>
<text x="1184.81" y="616.7" font-size="27.2" font-weight="normal" fill="#000" textLength="58.52" lengthAdjust="spacingAndGlyphs" stroke="#000" stroke-width="0.6" stroke-linejoin="round">Nuts</text>
<text x="1322.2" y="583.8" font-size="27.2" font-weight="normal" fill="#000" textLength="92.58" lengthAdjust="spacingAndGlyphs" stroke="#000" stroke-width="0.6" stroke-linejoin="round">#10 Flat</text>
<text x="1320.3" y="615.7" font-size="27.2" font-weight="normal" fill="#000" textLength="104.99" lengthAdjust="spacingAndGlyphs" stroke="#000" stroke-width="0.6" stroke-linejoin="round">Washers</text>
<text transform="translate(504.35,557.84) rotate(90)" x="0" y="0" font-size="29" font-weight="normal" fill="#000" textLength="69.05" lengthAdjust="spacingAndGlyphs" stroke="#000" stroke-width="0.7" stroke-linejoin="round">1-1/2″</text>
<text transform="translate(654.25,611.67) rotate(90)" x="0" y="0" font-size="29" font-weight="normal" fill="#000" textLength="22.21" lengthAdjust="spacingAndGlyphs" stroke="#000" stroke-width="0.7" stroke-linejoin="round">1″</text>
<text transform="translate(809.4,611.54) rotate(90)" x="0" y="0" font-size="29" font-weight="normal" fill="#000" textLength="53.39" lengthAdjust="spacingAndGlyphs" stroke="#000" stroke-width="0.7" stroke-linejoin="round">3/4″</text>
<text transform="translate(961.65,624.31) rotate(90)" x="0" y="0" font-size="29" font-weight="normal" fill="#000" textLength="52.62" lengthAdjust="spacingAndGlyphs" stroke="#000" stroke-width="0.7" stroke-linejoin="round">5/8″</text>
<text transform="translate(1117.85,636.71) rotate(90)" x="0" y="0" font-size="29" font-weight="normal" fill="#000" textLength="52.82" lengthAdjust="spacingAndGlyphs" stroke="#000" stroke-width="0.7" stroke-linejoin="round">3/8″</text>
<text x="413.55" y="1024.7" font-size="29" font-weight="normal" fill="#fff" textLength="71.51" lengthAdjust="spacingAndGlyphs" stroke="#fff" stroke-width="0.8" stroke-linejoin="round">10pcs</text>
<text x="548.85" y="1024.7" font-size="29" font-weight="normal" fill="#fff" textLength="71.51" lengthAdjust="spacingAndGlyphs" stroke="#fff" stroke-width="0.8" stroke-linejoin="round">10pcs</text>
<text x="679.85" y="1024.7" font-size="29" font-weight="normal" fill="#fff" textLength="71.51" lengthAdjust="spacingAndGlyphs" stroke="#fff" stroke-width="0.8" stroke-linejoin="round">15pcs</text>
<text x="812.35" y="1024.7" font-size="29" font-weight="normal" fill="#fff" textLength="71.51" lengthAdjust="spacingAndGlyphs" stroke="#fff" stroke-width="0.8" stroke-linejoin="round">15pcs</text>
<text x="944.35" y="1024.7" font-size="29" font-weight="normal" fill="#fff" textLength="71.51" lengthAdjust="spacingAndGlyphs" stroke="#fff" stroke-width="0.8" stroke-linejoin="round">15pcs</text>
<text x="1073.85" y="1024.7" font-size="29" font-weight="normal" fill="#fff" textLength="71.51" lengthAdjust="spacingAndGlyphs" stroke="#fff" stroke-width="0.8" stroke-linejoin="round">15pcs</text>
<text x="1206.61" y="1024.7" font-size="29" font-weight="normal" fill="#fff" textLength="76.28" lengthAdjust="spacingAndGlyphs" stroke="#fff" stroke-width="0.8" stroke-linejoin="round">80pcs</text>
<text x="1333.91" y="1024.7" font-size="29" font-weight="normal" fill="#fff" textLength="76.28" lengthAdjust="spacingAndGlyphs" stroke="#fff" stroke-width="0.8" stroke-linejoin="round">80pcs</text>
<text x="1210.18" y="898.7" font-size="27.2" font-weight="normal" fill="#000" textLength="59.14" lengthAdjust="spacingAndGlyphs" stroke="#000" stroke-width="0.6" stroke-linejoin="round">Nuts</text>
<text x="1318" y="866.5" font-size="27.2" font-weight="normal" fill="#000" textLength="82.16" lengthAdjust="spacingAndGlyphs" stroke="#000" stroke-width="0.6" stroke-linejoin="round">#8 Flat</text>
<text x="1309.7" y="897.7" font-size="27.2" font-weight="normal" fill="#000" textLength="105.59" lengthAdjust="spacingAndGlyphs" stroke="#000" stroke-width="0.6" stroke-linejoin="round">Washers</text>
<text transform="translate(492.05,842.5) rotate(90)" x="0" y="0" font-size="29" font-weight="normal" fill="#000" textLength="70.8" lengthAdjust="spacingAndGlyphs" stroke="#000" stroke-width="0.7" stroke-linejoin="round">1-1/4″</text>
<text transform="translate(622.45,884.87) rotate(90)" x="0" y="0" font-size="29" font-weight="normal" fill="#000" textLength="22.81" lengthAdjust="spacingAndGlyphs" stroke="#000" stroke-width="0.7" stroke-linejoin="round">1″</text>
<text transform="translate(760.95,892.68) rotate(90)" x="0" y="0" font-size="29" font-weight="normal" fill="#000" textLength="54.16" lengthAdjust="spacingAndGlyphs" stroke="#000" stroke-width="0.7" stroke-linejoin="round">3/4″</text>
<text transform="translate(889.25,910.63) rotate(90)" x="0" y="0" font-size="29" font-weight="normal" fill="#000" textLength="51.59" lengthAdjust="spacingAndGlyphs" stroke="#000" stroke-width="0.7" stroke-linejoin="round">5/8″</text>
<text transform="translate(1021.05,909.81) rotate(90)" x="0" y="0" font-size="29" font-weight="normal" fill="#000" textLength="46.48" lengthAdjust="spacingAndGlyphs" stroke="#000" stroke-width="0.7" stroke-linejoin="round">1/2″</text>
<text transform="translate(1162.35,931.76) rotate(90)" x="0" y="0" font-size="29" font-weight="normal" fill="#000" textLength="47.74" lengthAdjust="spacingAndGlyphs" stroke="#000" stroke-width="0.7" stroke-linejoin="round">1/4″</text>
<text x="434.41" y="1311.4" font-size="29" font-weight="normal" fill="#fff" textLength="76.28" lengthAdjust="spacingAndGlyphs" stroke="#fff" stroke-width="0.8" stroke-linejoin="round">20pcs</text>
<text x="611.41" y="1311.4" font-size="29" font-weight="normal" fill="#fff" textLength="76.28" lengthAdjust="spacingAndGlyphs" stroke="#fff" stroke-width="0.8" stroke-linejoin="round">20pcs</text>
<text x="787.41" y="1311.4" font-size="29" font-weight="normal" fill="#fff" textLength="76.28" lengthAdjust="spacingAndGlyphs" stroke="#fff" stroke-width="0.8" stroke-linejoin="round">20pcs</text>
<text x="967.91" y="1311.4" font-size="29" font-weight="normal" fill="#fff" textLength="76.28" lengthAdjust="spacingAndGlyphs" stroke="#fff" stroke-width="0.8" stroke-linejoin="round">20pcs</text>
<text x="1145.91" y="1311.4" font-size="29" font-weight="normal" fill="#fff" textLength="76.28" lengthAdjust="spacingAndGlyphs" stroke="#fff" stroke-width="0.8" stroke-linejoin="round">80pcs</text>
<text x="1323.91" y="1311.4" font-size="29" font-weight="normal" fill="#fff" textLength="76.28" lengthAdjust="spacingAndGlyphs" stroke="#fff" stroke-width="0.8" stroke-linejoin="round">80pcs</text>
<text x="1154.18" y="1185.7" font-size="27.2" font-weight="normal" fill="#000" textLength="59.14" lengthAdjust="spacingAndGlyphs" stroke="#000" stroke-width="0.6" stroke-linejoin="round">Nuts</text>
<text x="1318.3" y="1154.7" font-size="27.2" font-weight="normal" fill="#000" textLength="80.97" lengthAdjust="spacingAndGlyphs" stroke="#000" stroke-width="0.6" stroke-linejoin="round">#2 Flat</text>
<text x="1309.3" y="1185.7" font-size="27.2" font-weight="normal" fill="#000" textLength="105.99" lengthAdjust="spacingAndGlyphs" stroke="#000" stroke-width="0.6" stroke-linejoin="round">Washers</text>
<text transform="translate(515.55,1143.31) rotate(90)" x="0" y="0" font-size="29" font-weight="normal" fill="#000" textLength="52.62" lengthAdjust="spacingAndGlyphs" stroke="#000" stroke-width="0.7" stroke-linejoin="round">5/8″</text>
<text transform="translate(693.05,1158.11) rotate(90)" x="0" y="0" font-size="29" font-weight="normal" fill="#000" textLength="52.72" lengthAdjust="spacingAndGlyphs" stroke="#000" stroke-width="0.7" stroke-linejoin="round">3/8″</text>
<text transform="translate(868.65,1163.41) rotate(90)" x="0" y="0" font-size="29" font-weight="normal" fill="#000" textLength="62.49" lengthAdjust="spacingAndGlyphs" stroke="#000" stroke-width="0.7" stroke-linejoin="round">5/16″</text>
<text transform="translate(1049.65,1179.39) rotate(90)" x="0" y="0" font-size="29" font-weight="normal" fill="#000" textLength="49.52" lengthAdjust="spacingAndGlyphs" stroke="#000" stroke-width="0.7" stroke-linejoin="round">1/4″</text>
<text x="413.55" y="1601" font-size="29" font-weight="normal" fill="#fff" textLength="71.51" lengthAdjust="spacingAndGlyphs" stroke="#fff" stroke-width="0.8" stroke-linejoin="round">10pcs</text>
<text x="548.85" y="1601" font-size="29" font-weight="normal" fill="#fff" textLength="71.51" lengthAdjust="spacingAndGlyphs" stroke="#fff" stroke-width="0.8" stroke-linejoin="round">10pcs</text>
<text x="679.85" y="1601" font-size="29" font-weight="normal" fill="#fff" textLength="71.51" lengthAdjust="spacingAndGlyphs" stroke="#fff" stroke-width="0.8" stroke-linejoin="round">15pcs</text>
<text x="812.35" y="1601" font-size="29" font-weight="normal" fill="#fff" textLength="71.51" lengthAdjust="spacingAndGlyphs" stroke="#fff" stroke-width="0.8" stroke-linejoin="round">15pcs</text>
<text x="944.35" y="1601" font-size="29" font-weight="normal" fill="#fff" textLength="71.51" lengthAdjust="spacingAndGlyphs" stroke="#fff" stroke-width="0.8" stroke-linejoin="round">15pcs</text>
<text x="1073.85" y="1601" font-size="29" font-weight="normal" fill="#fff" textLength="71.51" lengthAdjust="spacingAndGlyphs" stroke="#fff" stroke-width="0.8" stroke-linejoin="round">15pcs</text>
<text x="1206.61" y="1601" font-size="29" font-weight="normal" fill="#fff" textLength="76.28" lengthAdjust="spacingAndGlyphs" stroke="#fff" stroke-width="0.8" stroke-linejoin="round">80pcs</text>
<text x="1333.91" y="1601" font-size="29" font-weight="normal" fill="#fff" textLength="76.28" lengthAdjust="spacingAndGlyphs" stroke="#fff" stroke-width="0.8" stroke-linejoin="round">80pcs</text>
<text x="1210.18" y="1475.2" font-size="27.2" font-weight="normal" fill="#000" textLength="59.14" lengthAdjust="spacingAndGlyphs" stroke="#000" stroke-width="0.6" stroke-linejoin="round">Nuts</text>
<text x="1318" y="1442" font-size="27.2" font-weight="normal" fill="#000" textLength="82.16" lengthAdjust="spacingAndGlyphs" stroke="#000" stroke-width="0.6" stroke-linejoin="round">#6 Flat</text>
<text x="1309.7" y="1473.2" font-size="27.2" font-weight="normal" fill="#000" textLength="105.59" lengthAdjust="spacingAndGlyphs" stroke="#000" stroke-width="0.6" stroke-linejoin="round">Washers</text>
<text transform="translate(493.05,1441.42) rotate(90)" x="0" y="0" font-size="29" font-weight="normal" fill="#000" textLength="22.86" lengthAdjust="spacingAndGlyphs" stroke="#000" stroke-width="0.7" stroke-linejoin="round">1″</text>
<text transform="translate(621.4,1445.9) rotate(90)" x="0" y="0" font-size="29" font-weight="normal" fill="#000" textLength="53.03" lengthAdjust="spacingAndGlyphs" stroke="#000" stroke-width="0.7" stroke-linejoin="round">3/4″</text>
<text transform="translate(760.95,1468.71) rotate(90)" x="0" y="0" font-size="29" font-weight="normal" fill="#000" textLength="52.82" lengthAdjust="spacingAndGlyphs" stroke="#000" stroke-width="0.7" stroke-linejoin="round">5/8″</text>
<text transform="translate(889.25,1486.86) rotate(90)" x="0" y="0" font-size="29" font-weight="normal" fill="#000" textLength="47.74" lengthAdjust="spacingAndGlyphs" stroke="#000" stroke-width="0.7" stroke-linejoin="round">1/2″</text>
<text transform="translate(1021.05,1482.9) rotate(90)" x="0" y="0" font-size="29" font-weight="normal" fill="#000" textLength="52.92" lengthAdjust="spacingAndGlyphs" stroke="#000" stroke-width="0.7" stroke-linejoin="round">3/8″</text>
<text transform="translate(1162.35,1506.41) rotate(90)" x="0" y="0" font-size="29" font-weight="normal" fill="#000" textLength="49.1" lengthAdjust="spacingAndGlyphs" stroke="#000" stroke-width="0.7" stroke-linejoin="round">1/4″</text>
<text x="434.41" y="1889.9" font-size="29" font-weight="normal" fill="#fff" textLength="76.28" lengthAdjust="spacingAndGlyphs" stroke="#fff" stroke-width="0.8" stroke-linejoin="round">20pcs</text>
<text x="611.41" y="1889.9" font-size="29" font-weight="normal" fill="#fff" textLength="76.28" lengthAdjust="spacingAndGlyphs" stroke="#fff" stroke-width="0.8" stroke-linejoin="round">20pcs</text>
<text x="787.41" y="1889.9" font-size="29" font-weight="normal" fill="#fff" textLength="76.28" lengthAdjust="spacingAndGlyphs" stroke="#fff" stroke-width="0.8" stroke-linejoin="round">20pcs</text>
<text x="967.91" y="1889.9" font-size="29" font-weight="normal" fill="#fff" textLength="76.28" lengthAdjust="spacingAndGlyphs" stroke="#fff" stroke-width="0.8" stroke-linejoin="round">20pcs</text>
<text x="1145.91" y="1889.9" font-size="29" font-weight="normal" fill="#fff" textLength="76.28" lengthAdjust="spacingAndGlyphs" stroke="#fff" stroke-width="0.8" stroke-linejoin="round">80pcs</text>
<text x="1323.91" y="1889.9" font-size="29" font-weight="normal" fill="#fff" textLength="76.28" lengthAdjust="spacingAndGlyphs" stroke="#fff" stroke-width="0.8" stroke-linejoin="round">80pcs</text>
<text x="1154.18" y="1764.1" font-size="27.2" font-weight="normal" fill="#000" textLength="59.14" lengthAdjust="spacingAndGlyphs" stroke="#000" stroke-width="0.6" stroke-linejoin="round">Nuts</text>
<text x="1317.3" y="1732.7" font-size="27.2" font-weight="normal" fill="#000" textLength="81.96" lengthAdjust="spacingAndGlyphs" stroke="#000" stroke-width="0.6" stroke-linejoin="round">#4 Flat</text>
<text x="1309.3" y="1764.1" font-size="27.2" font-weight="normal" fill="#000" textLength="105.99" lengthAdjust="spacingAndGlyphs" stroke="#000" stroke-width="0.6" stroke-linejoin="round">Washers</text>
<text transform="translate(515.65,1722.23) rotate(90)" x="0" y="0" font-size="29" font-weight="normal" fill="#000" textLength="51.59" lengthAdjust="spacingAndGlyphs" stroke="#000" stroke-width="0.7" stroke-linejoin="round">5/8″</text>
<text transform="translate(693.05,1754.01) rotate(90)" x="0" y="0" font-size="29" font-weight="normal" fill="#000" textLength="52.72" lengthAdjust="spacingAndGlyphs" stroke="#000" stroke-width="0.7" stroke-linejoin="round">3/8″</text>
<text transform="translate(868.65,1763.02) rotate(90)" x="0" y="0" font-size="29" font-weight="normal" fill="#000" textLength="61.87" lengthAdjust="spacingAndGlyphs" stroke="#000" stroke-width="0.7" stroke-linejoin="round">5/16″</text>
<text transform="translate(1049.65,1777.43) rotate(90)" x="0" y="0" font-size="29" font-weight="normal" fill="#000" textLength="48.47" lengthAdjust="spacingAndGlyphs" stroke="#000" stroke-width="0.7" stroke-linejoin="round">1/4″</text>
</svg></body></html>
